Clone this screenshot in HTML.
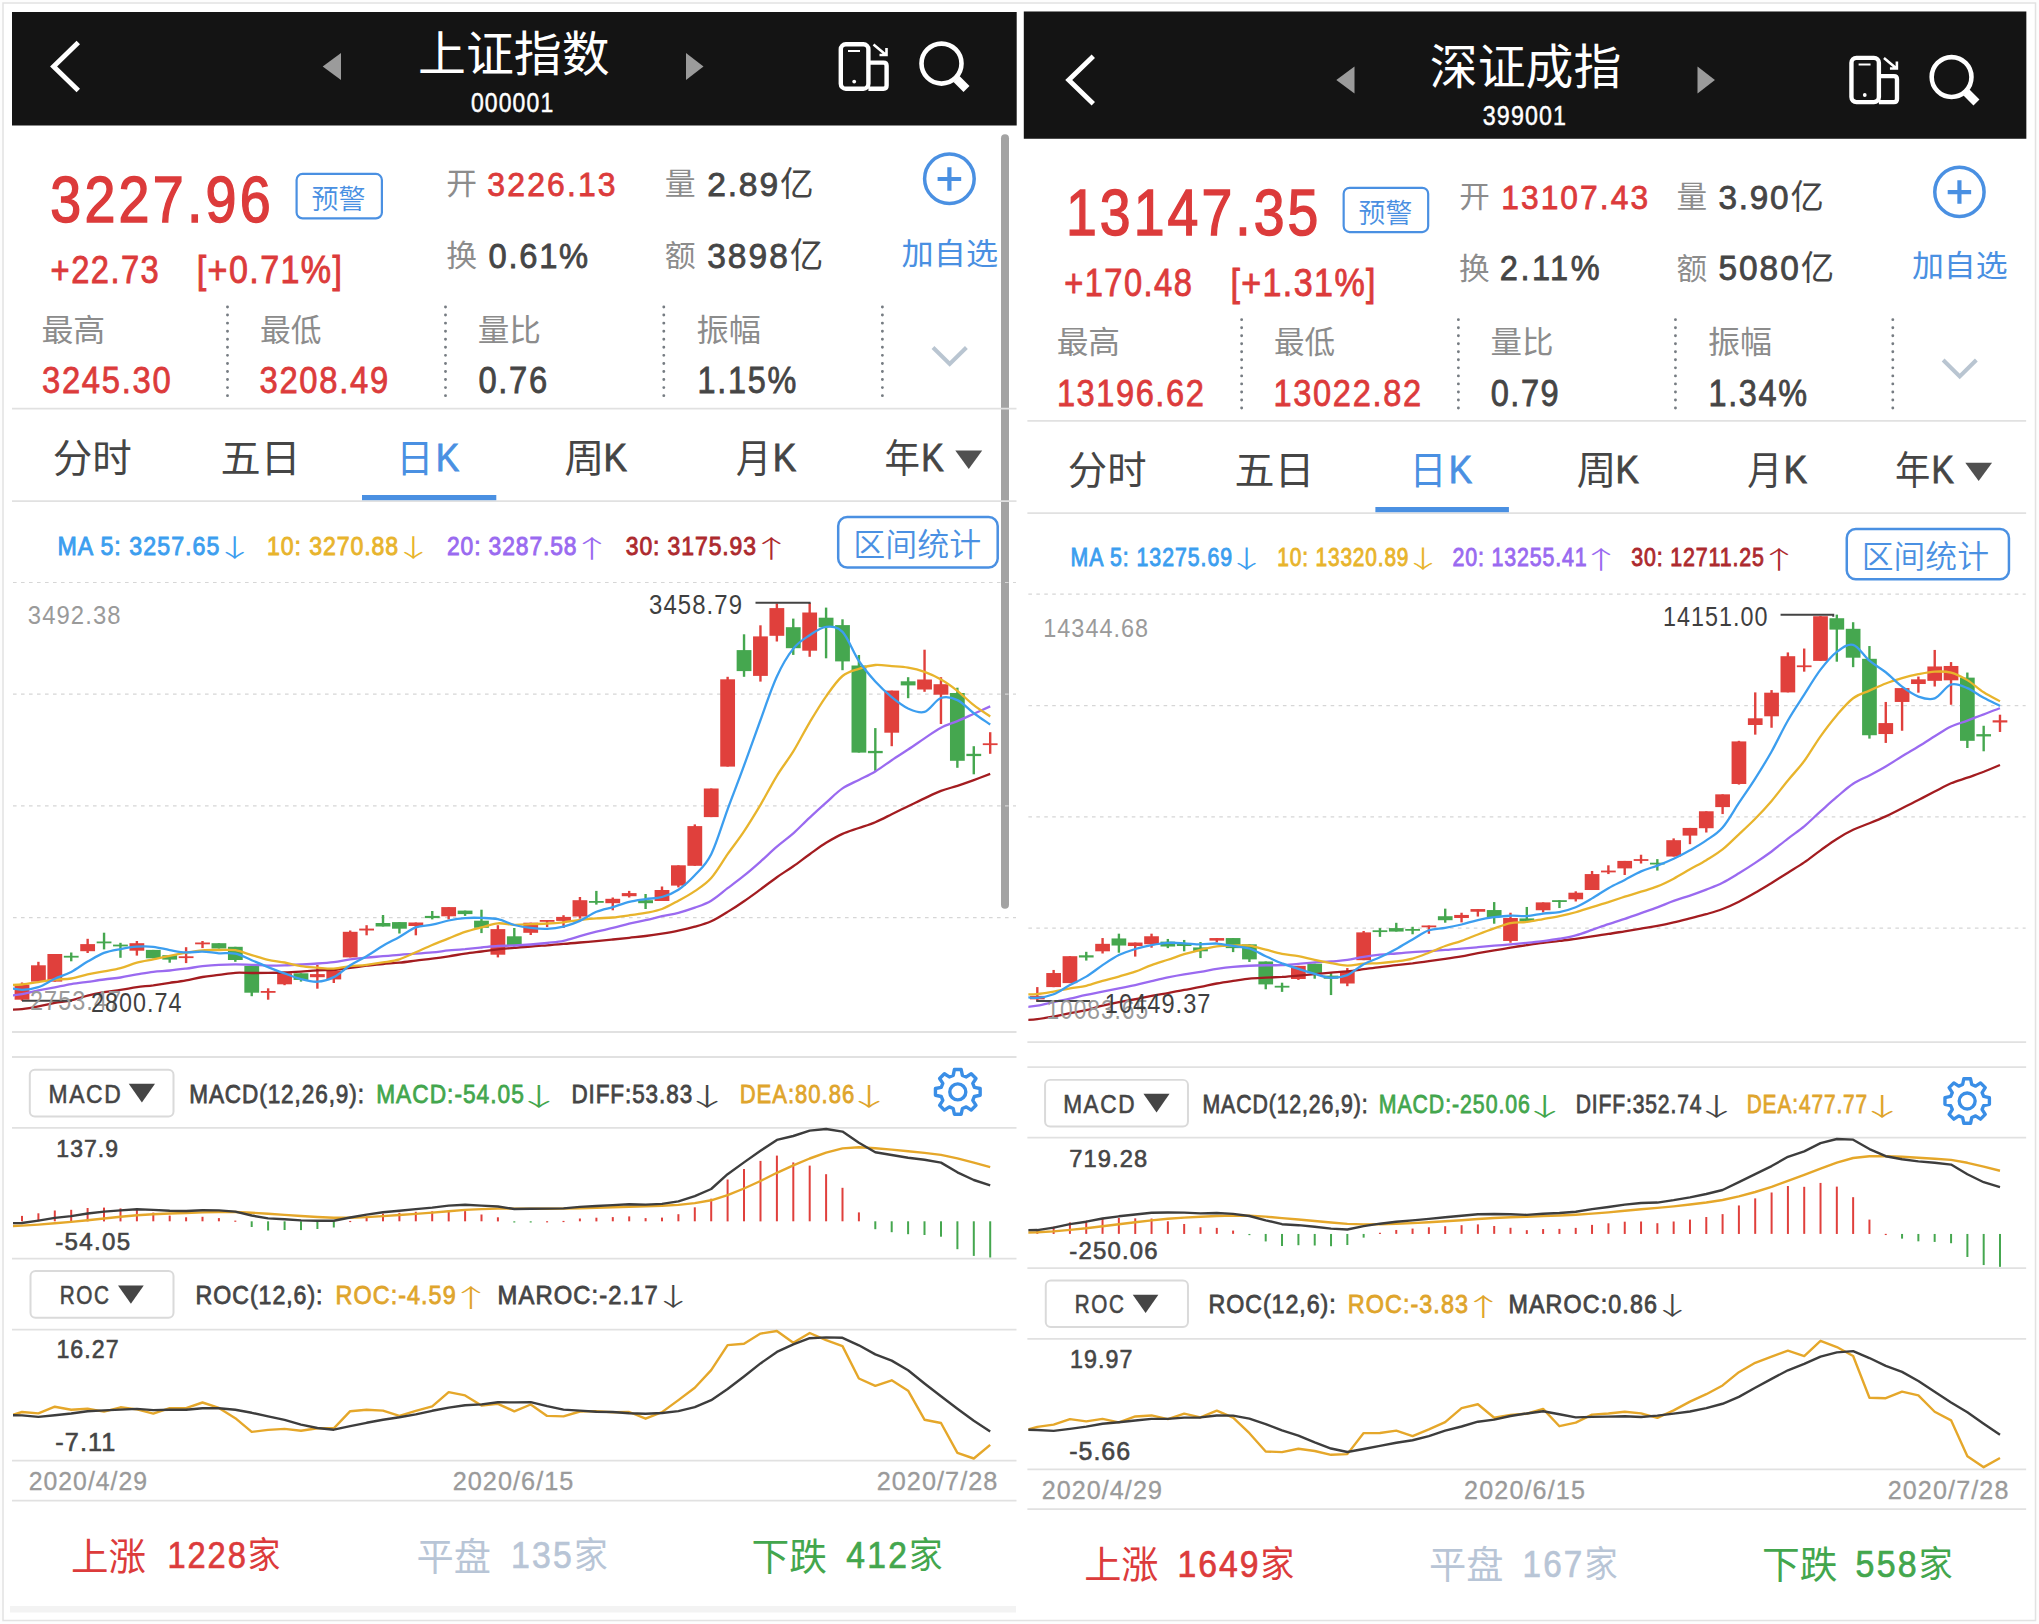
<!DOCTYPE html>
<html><head><meta charset="utf-8"><title>上证指数 / 深证成指</title>
<style>
html,body{margin:0;padding:0;background:#fff;width:2039px;height:1624px;overflow:hidden}
svg{display:block}
.n{font-family:'Liberation Sans','Noto Sans CJK SC',sans-serif}
.a{font-family:'Noto Sans CJK SC',sans-serif}
.c{font-family:'Noto Sans CJK SC',sans-serif}
</style></head><body>
<svg width="2039" height="1624" viewBox="0 0 2039 1624">
<defs>
<clipPath id="clipL"><rect x="13" y="570" width="1003.5" height="900"/></clipPath>
<clipPath id="clipR"><rect x="13" y="570" width="1003.5" height="900"/></clipPath>
</defs>
<rect x="0" y="0" width="2039" height="1624" fill="#fdfdfd"/>
<rect x="3" y="3" width="2032.5" height="1617.5" fill="#fff" stroke="#e2e2e2" stroke-width="1.5"/>
<rect x="10" y="1606" width="1006" height="6.5" fill="#f3f3f3"/>
<g id="left">
<rect x="12.0" y="12.0" width="1004.7" height="113.5" fill="#141414"/>
<path d="M78.3 42.6 L53.6 66.5 L78.3 90.4" fill="none" stroke="#fff" stroke-width="4.9" stroke-linecap="butt" stroke-linejoin="miter"/>
<path d="M341 53 L322.7 66.5 L341 80 Z" fill="#9b9b9b"/>
<path d="M686 53 L703.5 66.5 L686 80 Z" fill="#9b9b9b"/>
<rect x="840.8" y="44.3" width="27.6" height="44.4" rx="5" fill="none" stroke="#fff" stroke-width="4.4"/>
<path d="M868.4 62.6 H883.5 Q886.6 62.6 886.6 65.7 V85.6 Q886.6 88.7 883.5 88.7 H868.4" fill="none" stroke="#fff" stroke-width="4.4"/>
<line x1="848" y1="51" x2="860" y2="51" stroke="#fff" stroke-width="2"/>
<circle cx="854.2" cy="81.6" r="1.9" fill="#fff"/>
<path d="M873.5 44.5 L885.5 54.5 M879.5 55 H886.5 V48" fill="none" stroke="#fff" stroke-width="2.6"/>
<circle cx="941.5" cy="63.6" r="20" fill="none" stroke="#fff" stroke-width="4.6"/>
<line x1="956.5" y1="79" x2="966.5" y2="89" stroke="#fff" stroke-width="8.5"/>
<rect x="1001" y="134.3" width="8" height="774.5" rx="4" fill="#a3a3a3"/>
<rect x="296.6" y="173.9" width="85.3" height="44.5" rx="6" fill="none" stroke="#4a90e2" stroke-width="2.2"/>
<circle cx="949.4" cy="178.8" r="24.8" fill="none" stroke="#4a90e2" stroke-width="3.5"/>
<path d="M937.6 179 H961.2 M949.4 167.2 V190.8" stroke="#4a90e2" stroke-width="4.2"/>
<line x1="227.5" y1="307" x2="227.5" y2="398" stroke="#767c82" stroke-width="2.9" stroke-linecap="round" stroke-dasharray="0.01 8.05"/>
<line x1="445.5" y1="307" x2="445.5" y2="398" stroke="#767c82" stroke-width="2.9" stroke-linecap="round" stroke-dasharray="0.01 8.05"/>
<line x1="663.8" y1="307" x2="663.8" y2="398" stroke="#767c82" stroke-width="2.9" stroke-linecap="round" stroke-dasharray="0.01 8.05"/>
<line x1="882.4" y1="307" x2="882.4" y2="398" stroke="#767c82" stroke-width="2.9" stroke-linecap="round" stroke-dasharray="0.01 8.05"/>
<path d="M933 347.5 L949.7 364 L966.4 347.5" fill="none" stroke="#b9c5d1" stroke-width="4"/>
<line x1="12" y1="408.6" x2="1016.5" y2="408.6" stroke="#e1e1e1" stroke-width="1.8"/>
<line x1="12" y1="501.2" x2="1016.5" y2="501.2" stroke="#e1e1e1" stroke-width="1.8"/>
<line x1="12" y1="1032.0" x2="1016.5" y2="1032.0" stroke="#e1e1e1" stroke-width="1.8"/>
<line x1="12" y1="1057.0" x2="1016.5" y2="1057.0" stroke="#e1e1e1" stroke-width="1.8"/>
<line x1="12" y1="1127.8" x2="1016.5" y2="1127.8" stroke="#e1e1e1" stroke-width="1.8"/>
<line x1="12" y1="1258.6" x2="1016.5" y2="1258.6" stroke="#e1e1e1" stroke-width="1.8"/>
<line x1="12" y1="1329.6" x2="1016.5" y2="1329.6" stroke="#e1e1e1" stroke-width="1.8"/>
<line x1="12" y1="1460.6" x2="1016.5" y2="1460.6" stroke="#e1e1e1" stroke-width="1.8"/>
<line x1="12" y1="1500.6" x2="1016.5" y2="1500.6" stroke="#e1e1e1" stroke-width="1.8"/>
<rect x="362" y="495" width="134.3" height="5.2" fill="#4a90e2"/>
<path d="M955.3 450.5 H982.2 L968.75 468.9 Z" fill="#505050"/>
<rect x="838.2" y="517.0" width="159.5" height="50.6" rx="9" fill="none" stroke="#4a90e2" stroke-width="2.5"/>
<rect x="29.8" y="1069.8" width="143.7" height="46.7" rx="5" fill="none" stroke="#dadada" stroke-width="2"/>
<path d="M128.75 1083.8 H155 L141.9 1102.5 Z" fill="#454545"/>
<rect x="30.5" y="1271" width="143" height="46.7" rx="5" fill="none" stroke="#dadada" stroke-width="2"/>
<path d="M118 1285.5 H143.75 L130.9 1303.75 Z" fill="#454545"/>
<path d="M974.38 1087.31 L980.15 1088.52 L980.15 1095.28 L974.38 1096.49 L972.77 1100.38 L975.99 1105.31 L971.21 1110.09 L966.28 1106.87 L962.39 1108.48 L961.18 1114.25 L954.42 1114.25 L953.21 1108.48 L949.32 1106.87 L944.39 1110.09 L939.61 1105.31 L942.83 1100.38 L941.22 1096.49 L935.45 1095.28 L935.45 1088.52 L941.22 1087.31 L942.83 1083.42 L939.61 1078.49 L944.39 1073.71 L949.32 1076.93 L953.21 1075.32 L954.42 1069.55 L961.18 1069.55 L962.39 1075.32 L966.28 1076.93 L971.21 1073.71 L975.99 1078.49 L972.77 1083.42 Z" fill="none" stroke="#3a8ee6" stroke-width="3.4" stroke-linejoin="round"/><circle cx="957.8" cy="1091.9" r="8" fill="none" stroke="#3a8ee6" stroke-width="3.4"/>
<line x1="13" y1="582.5" x2="1016" y2="582.5" stroke="#d6d6d6" stroke-width="1.2" stroke-dasharray="3.6 4.4"/>
<line x1="13" y1="694.2" x2="1016" y2="694.2" stroke="#d6d6d6" stroke-width="1.2" stroke-dasharray="3.6 4.4"/>
<line x1="13" y1="805.9" x2="1016" y2="805.9" stroke="#d6d6d6" stroke-width="1.2" stroke-dasharray="3.6 4.4"/>
<line x1="13" y1="917.6" x2="1016" y2="917.6" stroke="#d6d6d6" stroke-width="1.2" stroke-dasharray="3.6 4.4"/>
<g clip-path="url(#clipL)">
<rect x="20.80" y="982.5" width="2.4" height="18.3" fill="#e0403c"/>
<rect x="14.60" y="984.7" width="14.8" height="15.0" fill="#e0403c"/>
<rect x="37.21" y="961.8" width="2.4" height="19.8" fill="#e0403c"/>
<rect x="31.01" y="965.3" width="14.8" height="16.3" fill="#e0403c"/>
<rect x="53.62" y="954.0" width="2.4" height="27.6" fill="#e0403c"/>
<rect x="47.42" y="954.0" width="14.8" height="27.6" fill="#e0403c"/>
<rect x="70.03" y="952.5" width="2.4" height="8.8" fill="#45a74f"/>
<rect x="63.83" y="955.8" width="14.8" height="1.8" fill="#45a74f"/>
<rect x="86.44" y="938.8" width="2.4" height="14.2" fill="#e0403c"/>
<rect x="80.24" y="944.1" width="14.8" height="7.1" fill="#e0403c"/>
<rect x="102.85" y="932.7" width="2.4" height="16.7" fill="#45a74f"/>
<rect x="96.65" y="941.5" width="14.8" height="1.8" fill="#45a74f"/>
<rect x="119.26" y="942.8" width="2.4" height="15.0" fill="#45a74f"/>
<rect x="113.06" y="944.6" width="14.8" height="1.8" fill="#45a74f"/>
<rect x="135.67" y="941.0" width="2.4" height="14.6" fill="#e0403c"/>
<rect x="129.47" y="943.2" width="14.8" height="7.5" fill="#e0403c"/>
<rect x="152.08" y="949.9" width="2.4" height="8.4" fill="#45a74f"/>
<rect x="145.88" y="949.9" width="14.8" height="8.4" fill="#45a74f"/>
<rect x="168.49" y="955.2" width="2.4" height="7.5" fill="#45a74f"/>
<rect x="162.29" y="955.2" width="14.8" height="4.4" fill="#45a74f"/>
<rect x="184.90" y="947.2" width="2.4" height="15.9" fill="#e0403c"/>
<rect x="178.70" y="956.3" width="14.8" height="1.8" fill="#e0403c"/>
<rect x="201.31" y="941.0" width="2.4" height="7.1" fill="#e0403c"/>
<rect x="195.11" y="942.5" width="14.8" height="1.8" fill="#e0403c"/>
<rect x="217.72" y="943.2" width="2.4" height="5.3" fill="#45a74f"/>
<rect x="211.52" y="943.2" width="14.8" height="5.3" fill="#45a74f"/>
<rect x="234.13" y="946.8" width="2.4" height="15.0" fill="#45a74f"/>
<rect x="227.93" y="946.8" width="14.8" height="13.2" fill="#45a74f"/>
<rect x="250.54" y="965.8" width="2.4" height="30.4" fill="#45a74f"/>
<rect x="244.34" y="965.8" width="14.8" height="26.9" fill="#45a74f"/>
<rect x="266.95" y="988.3" width="2.4" height="11.4" fill="#e0403c"/>
<rect x="260.75" y="991.0" width="14.8" height="1.8" fill="#e0403c"/>
<rect x="283.36" y="973.3" width="2.4" height="11.9" fill="#e0403c"/>
<rect x="277.16" y="973.3" width="14.8" height="11.0" fill="#e0403c"/>
<rect x="299.77" y="973.3" width="2.4" height="8.3" fill="#45a74f"/>
<rect x="293.57" y="973.3" width="14.8" height="6.6" fill="#45a74f"/>
<rect x="316.18" y="964.9" width="2.4" height="23.8" fill="#e0403c"/>
<rect x="309.98" y="974.1" width="14.8" height="3.1" fill="#e0403c"/>
<rect x="332.59" y="970.6" width="2.4" height="12.4" fill="#e0403c"/>
<rect x="326.39" y="970.6" width="14.8" height="8.8" fill="#e0403c"/>
<rect x="349.00" y="930.5" width="2.4" height="26.9" fill="#e0403c"/>
<rect x="342.80" y="931.8" width="14.8" height="25.6" fill="#e0403c"/>
<rect x="365.41" y="925.2" width="2.4" height="10.1" fill="#e0403c"/>
<rect x="359.21" y="928.6" width="14.8" height="1.9" fill="#e0403c"/>
<rect x="381.82" y="915.0" width="2.4" height="11.5" fill="#45a74f"/>
<rect x="375.62" y="923.0" width="14.8" height="3.5" fill="#45a74f"/>
<rect x="398.23" y="922.1" width="2.4" height="11.4" fill="#45a74f"/>
<rect x="392.03" y="922.1" width="14.8" height="6.6" fill="#45a74f"/>
<rect x="414.64" y="922.5" width="2.4" height="12.8" fill="#e0403c"/>
<rect x="408.44" y="922.5" width="14.8" height="3.5" fill="#e0403c"/>
<rect x="431.05" y="911.0" width="2.4" height="8.4" fill="#45a74f"/>
<rect x="424.85" y="915.9" width="14.8" height="2.2" fill="#45a74f"/>
<rect x="447.46" y="907.1" width="2.4" height="12.3" fill="#e0403c"/>
<rect x="441.26" y="907.1" width="14.8" height="9.2" fill="#e0403c"/>
<rect x="463.87" y="910.6" width="2.4" height="5.3" fill="#45a74f"/>
<rect x="457.67" y="910.6" width="14.8" height="3.5" fill="#45a74f"/>
<rect x="480.28" y="909.7" width="2.4" height="23.4" fill="#45a74f"/>
<rect x="474.08" y="920.7" width="14.8" height="7.1" fill="#45a74f"/>
<rect x="496.69" y="925.2" width="2.4" height="32.2" fill="#e0403c"/>
<rect x="490.49" y="929.1" width="14.8" height="25.6" fill="#e0403c"/>
<rect x="513.10" y="928.0" width="2.4" height="18.5" fill="#45a74f"/>
<rect x="506.90" y="936.3" width="14.8" height="8.7" fill="#45a74f"/>
<rect x="529.51" y="922.7" width="2.4" height="12.3" fill="#e0403c"/>
<rect x="523.31" y="922.7" width="14.8" height="10.1" fill="#e0403c"/>
<rect x="545.92" y="920.0" width="2.4" height="7.1" fill="#e0403c"/>
<rect x="539.72" y="920.0" width="14.8" height="1.8" fill="#e0403c"/>
<rect x="562.33" y="915.2" width="2.4" height="12.8" fill="#e0403c"/>
<rect x="556.13" y="916.9" width="14.8" height="4.0" fill="#e0403c"/>
<rect x="578.74" y="897.0" width="2.4" height="21.7" fill="#e0403c"/>
<rect x="572.54" y="900.2" width="14.8" height="16.3" fill="#e0403c"/>
<rect x="595.15" y="890.9" width="2.4" height="13.7" fill="#45a74f"/>
<rect x="588.95" y="901.0" width="14.8" height="1.8" fill="#45a74f"/>
<rect x="611.56" y="897.5" width="2.4" height="12.8" fill="#e0403c"/>
<rect x="605.36" y="898.8" width="14.8" height="4.4" fill="#e0403c"/>
<rect x="627.97" y="890.9" width="2.4" height="6.6" fill="#e0403c"/>
<rect x="621.77" y="893.1" width="14.8" height="3.1" fill="#e0403c"/>
<rect x="644.38" y="894.0" width="2.4" height="15.0" fill="#45a74f"/>
<rect x="638.18" y="900.2" width="14.8" height="3.0" fill="#45a74f"/>
<rect x="660.79" y="886.5" width="2.4" height="14.5" fill="#e0403c"/>
<rect x="654.59" y="890.0" width="14.8" height="11.0" fill="#e0403c"/>
<rect x="677.20" y="865.3" width="2.4" height="22.1" fill="#e0403c"/>
<rect x="671.00" y="865.3" width="14.8" height="20.3" fill="#e0403c"/>
<rect x="693.61" y="824.4" width="2.4" height="41.4" fill="#e0403c"/>
<rect x="687.41" y="826.1" width="14.8" height="39.7" fill="#e0403c"/>
<rect x="710.02" y="788.5" width="2.4" height="28.6" fill="#e0403c"/>
<rect x="703.82" y="788.5" width="14.8" height="28.6" fill="#e0403c"/>
<rect x="726.43" y="676.8" width="2.4" height="89.8" fill="#e0403c"/>
<rect x="720.23" y="679.3" width="14.8" height="87.3" fill="#e0403c"/>
<rect x="742.84" y="634.3" width="2.4" height="42.5" fill="#45a74f"/>
<rect x="736.64" y="650.1" width="14.8" height="21.0" fill="#45a74f"/>
<rect x="759.25" y="625.3" width="2.4" height="56.3" fill="#e0403c"/>
<rect x="753.05" y="636.4" width="14.8" height="39.5" fill="#e0403c"/>
<rect x="775.66" y="603.4" width="2.4" height="38.1" fill="#e0403c"/>
<rect x="769.46" y="608.1" width="14.8" height="27.7" fill="#e0403c"/>
<rect x="792.07" y="618.6" width="2.4" height="36.3" fill="#45a74f"/>
<rect x="785.87" y="627.2" width="14.8" height="21.0" fill="#45a74f"/>
<rect x="808.48" y="602.8" width="2.4" height="54.0" fill="#e0403c"/>
<rect x="802.28" y="612.5" width="14.8" height="38.2" fill="#e0403c"/>
<rect x="824.89" y="607.6" width="2.4" height="50.7" fill="#45a74f"/>
<rect x="818.69" y="617.7" width="14.8" height="9.5" fill="#45a74f"/>
<rect x="841.30" y="619.3" width="2.4" height="50.9" fill="#45a74f"/>
<rect x="835.10" y="625.1" width="14.8" height="36.3" fill="#45a74f"/>
<rect x="857.71" y="655.0" width="2.4" height="97.6" fill="#45a74f"/>
<rect x="851.51" y="665.5" width="14.8" height="87.1" fill="#45a74f"/>
<rect x="874.12" y="728.1" width="2.4" height="42.7" fill="#45a74f"/>
<rect x="867.92" y="750.9" width="14.8" height="2.3" fill="#45a74f"/>
<rect x="890.53" y="690.6" width="2.4" height="55.6" fill="#e0403c"/>
<rect x="884.33" y="690.6" width="14.8" height="42.1" fill="#e0403c"/>
<rect x="906.94" y="677.2" width="2.4" height="21.0" fill="#45a74f"/>
<rect x="900.74" y="681.3" width="14.8" height="4.1" fill="#45a74f"/>
<rect x="923.35" y="649.7" width="2.4" height="42.1" fill="#e0403c"/>
<rect x="917.15" y="679.5" width="14.8" height="10.0" fill="#e0403c"/>
<rect x="939.76" y="677.2" width="2.4" height="46.8" fill="#e0403c"/>
<rect x="933.56" y="684.2" width="14.8" height="10.5" fill="#e0403c"/>
<rect x="956.17" y="687.7" width="2.4" height="80.1" fill="#45a74f"/>
<rect x="949.97" y="693.0" width="14.8" height="67.8" fill="#45a74f"/>
<rect x="972.58" y="746.2" width="2.4" height="28.1" fill="#45a74f"/>
<rect x="966.38" y="753.8" width="14.8" height="2.3" fill="#45a74f"/>
<rect x="988.99" y="732.2" width="2.4" height="21.6" fill="#e0403c"/>
<rect x="982.79" y="743.3" width="14.8" height="1.8" fill="#e0403c"/>
<path d="M5.6 1010.0 C8.3 1009.8 16.5 1009.7 22.0 1009.1 C27.5 1008.5 32.9 1007.5 38.4 1006.4 C43.9 1005.4 49.4 1003.9 54.8 1002.9 C60.3 1001.9 65.8 1001.6 71.2 1000.4 C76.7 999.1 82.2 997.0 87.6 995.6 C93.1 994.2 98.6 993.1 104.0 992.1 C109.5 991.2 115.0 990.7 120.5 989.9 C125.9 989.1 131.4 988.0 136.9 987.2 C142.3 986.5 147.8 986.0 153.3 985.3 C158.8 984.5 164.2 983.6 169.7 982.8 C175.2 982.0 180.6 981.3 186.1 980.3 C191.6 979.3 197.0 977.9 202.5 977.0 C208.0 976.1 213.5 975.6 218.9 974.9 C224.4 974.2 229.9 973.1 235.3 972.8 C240.8 972.5 246.3 972.9 251.7 973.0 C257.2 973.0 262.7 973.0 268.1 972.9 C273.6 972.8 279.1 972.7 284.6 972.5 C290.0 972.3 295.5 972.0 301.0 971.7 C306.4 971.3 311.9 970.7 317.4 970.4 C322.9 970.1 328.3 970.3 333.8 969.9 C339.3 969.5 344.7 968.5 350.2 967.8 C355.7 967.1 361.1 966.4 366.6 965.7 C372.1 965.1 377.5 964.5 383.0 964.0 C388.5 963.5 394.0 963.3 399.4 962.7 C404.9 962.1 410.4 961.3 415.8 960.6 C421.3 959.9 426.8 959.4 432.2 958.7 C437.7 958.0 443.2 957.2 448.7 956.3 C454.1 955.5 459.6 954.4 465.1 953.6 C470.5 952.8 476.0 952.2 481.5 951.5 C487.0 950.8 492.4 949.9 497.9 949.3 C503.4 948.7 508.8 948.4 514.3 947.9 C519.8 947.4 525.2 946.9 530.7 946.5 C536.2 946.0 541.6 945.7 547.1 945.3 C552.6 944.9 558.1 944.4 563.5 943.9 C569.0 943.5 574.5 943.0 579.9 942.5 C585.4 942.0 590.9 941.6 596.4 941.1 C601.8 940.6 607.3 940.0 612.8 939.5 C618.2 938.9 623.7 938.4 629.2 937.8 C634.6 937.2 640.1 936.7 645.6 936.0 C651.1 935.3 656.5 934.5 662.0 933.6 C667.5 932.7 672.9 931.8 678.4 930.6 C683.9 929.5 689.3 928.3 694.8 926.7 C700.3 925.2 705.8 923.8 711.2 921.3 C716.7 918.8 722.2 915.3 727.6 911.9 C733.1 908.6 738.6 905.0 744.0 901.2 C749.5 897.5 755.0 893.4 760.5 889.4 C765.9 885.4 771.4 881.1 776.9 877.2 C782.3 873.4 787.8 870.1 793.3 866.2 C798.7 862.4 804.2 858.1 809.7 854.2 C815.2 850.3 820.6 846.2 826.1 842.8 C831.6 839.5 837.0 836.3 842.5 833.9 C848.0 831.4 853.4 830.0 858.9 828.0 C864.4 826.1 869.9 824.5 875.3 822.2 C880.8 819.9 886.3 816.9 891.7 814.2 C897.2 811.6 902.7 809.0 908.1 806.3 C913.6 803.7 919.1 800.9 924.5 798.4 C930.0 795.8 935.5 793.0 941.0 790.9 C946.4 788.8 951.9 787.6 957.4 785.8 C962.8 784.0 968.3 782.1 973.8 780.1 C979.2 778.1 987.5 774.9 990.2 773.9" fill="none" stroke="#a31c20" stroke-width="2.3" stroke-linejoin="round"/>
<path d="M5.6 996.3 C8.3 995.9 16.5 995.1 22.0 994.1 C27.5 993.1 32.9 991.4 38.4 990.3 C43.9 989.2 49.4 988.4 54.8 987.4 C60.3 986.3 65.8 985.0 71.2 984.1 C76.7 983.2 82.2 982.6 87.6 981.9 C93.1 981.1 98.6 980.2 104.0 979.5 C109.5 978.7 115.0 978.3 120.5 977.5 C125.9 976.6 131.4 975.4 136.9 974.4 C142.3 973.5 147.8 972.4 153.3 971.8 C158.8 971.1 164.2 971.1 169.7 970.5 C175.2 970.0 180.6 969.3 186.1 968.6 C191.6 967.9 197.0 966.8 202.5 966.2 C208.0 965.6 213.5 965.1 218.9 964.8 C224.4 964.5 229.9 964.4 235.3 964.4 C240.8 964.4 246.3 964.6 251.7 964.8 C257.2 965.0 262.7 965.5 268.1 965.6 C273.6 965.6 279.1 965.5 284.6 965.3 C290.0 965.1 295.5 964.8 301.0 964.5 C306.4 964.2 311.9 963.9 317.4 963.5 C322.9 963.2 328.3 962.9 333.8 962.2 C339.3 961.6 344.7 960.2 350.2 959.4 C355.7 958.7 361.1 958.1 366.6 957.6 C372.1 957.0 377.5 956.7 383.0 956.2 C388.5 955.7 394.0 955.2 399.4 954.8 C404.9 954.3 410.4 954.1 415.8 953.7 C421.3 953.3 426.8 952.9 432.2 952.4 C437.7 951.9 443.2 951.0 448.7 950.4 C454.1 949.9 459.6 949.5 465.1 949.1 C470.5 948.6 476.0 948.0 481.5 947.5 C487.0 947.0 492.4 946.3 497.9 946.0 C503.4 945.7 508.8 945.8 514.3 945.5 C519.8 945.3 525.2 945.0 530.7 944.5 C536.2 944.1 541.6 943.6 547.1 943.0 C552.6 942.3 558.1 941.9 563.5 940.8 C569.0 939.7 574.5 937.7 579.9 936.2 C585.4 934.6 590.9 933.1 596.4 931.7 C601.8 930.3 607.3 929.3 612.8 927.9 C618.2 926.6 623.7 924.9 629.2 923.6 C634.6 922.3 640.1 921.4 645.6 920.1 C651.1 918.9 656.5 917.4 662.0 916.1 C667.5 914.9 672.9 914.2 678.4 912.8 C683.9 911.4 689.3 909.7 694.8 907.7 C700.3 905.7 705.8 904.0 711.2 900.7 C716.7 897.5 722.2 892.4 727.6 888.2 C733.1 884.1 738.6 880.1 744.0 875.7 C749.5 871.3 755.0 866.5 760.5 861.6 C765.9 856.8 771.4 851.4 776.9 846.7 C782.3 842.0 787.8 838.2 793.3 833.4 C798.7 828.5 804.2 822.7 809.7 817.6 C815.2 812.4 820.6 807.5 826.1 802.6 C831.6 797.7 837.0 792.1 842.5 788.4 C848.0 784.6 853.4 782.7 858.9 779.9 C864.4 777.1 869.9 774.8 875.3 771.5 C880.8 768.2 886.3 763.9 891.7 760.2 C897.2 756.5 902.7 753.1 908.1 749.5 C913.6 745.9 919.1 742.0 924.5 738.4 C930.0 734.7 935.5 730.5 941.0 727.7 C946.4 724.8 951.9 723.4 957.4 721.1 C962.8 718.8 968.3 716.2 973.8 713.7 C979.2 711.3 987.5 707.6 990.2 706.4" fill="none" stroke="#9a6af0" stroke-width="2.3" stroke-linejoin="round"/>
<path d="M5.6 985.2 C8.3 985.1 16.5 985.0 22.0 984.5 C27.5 984.0 32.9 982.9 38.4 982.1 C43.9 981.3 49.4 980.3 54.8 979.7 C60.3 979.1 65.8 979.4 71.2 978.5 C76.7 977.7 82.2 975.6 87.6 974.4 C93.1 973.2 98.6 972.4 104.0 971.3 C109.5 970.3 115.0 969.6 120.5 968.1 C125.9 966.7 131.4 964.2 136.9 962.7 C142.3 961.2 147.8 960.5 153.3 959.4 C158.8 958.2 164.2 957.0 169.7 955.9 C175.2 954.7 180.6 953.6 186.1 952.6 C191.6 951.7 197.0 950.8 202.5 950.3 C208.0 949.9 213.5 950.0 218.9 950.0 C224.4 950.0 229.9 949.3 235.3 950.2 C240.8 951.1 246.3 953.5 251.7 955.1 C257.2 956.7 262.7 958.6 268.1 959.8 C273.6 961.0 279.1 961.4 284.6 962.5 C290.0 963.6 295.5 965.3 301.0 966.2 C306.4 967.1 311.9 967.3 317.4 967.7 C322.9 968.1 328.3 968.9 333.8 968.6 C339.3 968.4 344.7 966.9 350.2 966.2 C355.7 965.6 361.1 965.5 366.6 964.8 C372.1 964.2 377.5 963.4 383.0 962.4 C388.5 961.5 394.0 961.0 399.4 959.3 C404.9 957.6 410.4 954.6 415.8 952.3 C421.3 949.9 426.8 947.3 432.2 945.0 C437.7 942.7 443.2 940.6 448.7 938.4 C454.1 936.2 459.6 933.8 465.1 931.9 C470.5 930.1 476.0 928.8 481.5 927.4 C487.0 926.0 492.4 923.8 497.9 923.3 C503.4 922.9 508.8 924.7 514.3 924.9 C519.8 925.0 525.2 924.5 530.7 924.2 C536.2 924.0 541.6 923.8 547.1 923.5 C552.6 923.2 558.1 922.8 563.5 922.3 C569.0 921.7 574.5 920.7 579.9 920.0 C585.4 919.4 590.9 918.8 596.4 918.4 C601.8 918.0 607.3 918.0 612.8 917.5 C618.2 917.0 623.7 916.1 629.2 915.3 C634.6 914.6 640.1 913.9 645.6 912.9 C651.1 911.8 656.5 911.0 662.0 909.0 C667.5 906.9 672.9 903.7 678.4 900.7 C683.9 897.8 689.3 894.9 694.8 891.1 C700.3 887.3 705.8 884.2 711.2 878.0 C716.7 871.8 722.2 862.0 727.6 854.2 C733.1 846.4 738.6 839.6 744.0 831.4 C749.5 823.1 755.0 814.1 760.5 804.9 C765.9 795.6 771.4 784.7 776.9 775.8 C782.3 766.9 787.8 760.3 793.3 751.4 C798.7 742.5 804.2 731.5 809.7 722.3 C815.2 713.1 820.6 704.0 826.1 696.3 C831.6 688.5 837.0 680.6 842.5 676.0 C848.0 671.4 853.4 670.6 858.9 668.8 C864.4 666.9 869.9 665.5 875.3 665.0 C880.8 664.6 886.3 665.7 891.7 666.2 C897.2 666.6 902.7 666.7 908.1 667.7 C913.6 668.6 919.1 669.9 924.5 671.9 C930.0 673.9 935.5 676.3 941.0 679.5 C946.4 682.6 951.9 686.5 957.4 690.8 C962.8 695.1 968.3 700.9 973.8 705.2 C979.2 709.5 987.5 714.6 990.2 716.5" fill="none" stroke="#e8b42c" stroke-width="2.3" stroke-linejoin="round"/>
<path d="M5.6 987.2 C8.3 987.6 16.5 989.8 22.0 989.8 C27.5 989.8 32.9 989.0 38.4 987.2 C43.9 985.3 49.4 981.3 54.8 978.7 C60.3 976.2 65.8 974.8 71.2 972.0 C76.7 969.1 82.2 964.8 87.6 961.6 C93.1 958.5 98.6 955.0 104.0 952.9 C109.5 950.8 115.0 950.1 120.5 949.1 C125.9 948.0 131.4 947.0 136.9 946.7 C142.3 946.3 147.8 946.2 153.3 946.8 C158.8 947.4 164.2 949.1 169.7 950.1 C175.2 951.0 180.6 952.2 186.1 952.4 C191.6 952.7 197.0 951.4 202.5 951.6 C208.0 951.7 213.5 953.0 218.9 953.3 C224.4 953.6 229.9 952.4 235.3 953.6 C240.8 954.7 246.3 957.9 251.7 960.2 C257.2 962.5 262.7 964.9 268.1 967.1 C273.6 969.4 279.1 971.4 284.6 973.4 C290.0 975.4 295.5 977.7 301.0 979.1 C306.4 980.5 311.9 982.1 317.4 981.7 C322.9 981.4 328.3 979.8 333.8 977.1 C339.3 974.3 344.7 968.8 350.2 965.3 C355.7 961.8 361.1 959.5 366.6 956.2 C372.1 953.0 377.5 949.0 383.0 945.8 C388.5 942.5 394.0 940.0 399.4 936.9 C404.9 933.9 410.4 929.5 415.8 927.4 C421.3 925.4 426.8 925.9 432.2 924.7 C437.7 923.6 443.2 921.7 448.7 920.5 C454.1 919.4 459.6 918.5 465.1 918.1 C470.5 917.6 476.0 917.7 481.5 917.9 C487.0 918.1 492.4 918.0 497.9 919.2 C503.4 920.4 508.8 923.5 514.3 925.0 C519.8 926.4 525.2 927.3 530.7 927.9 C536.2 928.6 541.6 929.1 547.1 928.9 C552.6 928.7 558.1 928.0 563.5 926.7 C569.0 925.3 574.5 923.3 579.9 920.9 C585.4 918.4 590.9 914.1 596.4 911.8 C601.8 909.5 607.3 908.7 612.8 907.1 C618.2 905.4 623.7 903.1 629.2 901.8 C634.6 900.5 640.1 899.9 645.6 899.1 C651.1 898.3 656.5 898.6 662.0 897.0 C667.5 895.5 672.9 893.3 678.4 889.7 C683.9 886.0 689.3 881.1 694.8 875.2 C700.3 869.3 705.8 865.2 711.2 854.2 C716.7 843.2 722.2 824.1 727.6 809.3 C733.1 794.5 738.6 780.6 744.0 765.7 C749.5 750.8 755.0 734.9 760.5 720.0 C765.9 705.1 771.4 688.4 776.9 676.5 C782.3 664.6 787.8 655.5 793.3 648.6 C798.7 641.7 804.2 638.9 809.7 635.2 C815.2 631.6 820.6 627.4 826.1 626.8 C831.6 626.3 837.0 626.2 842.5 631.9 C848.0 637.6 853.4 652.8 858.9 661.0 C864.4 669.3 869.9 675.5 875.3 681.5 C880.8 687.5 886.3 692.6 891.7 697.1 C897.2 701.6 902.7 706.0 908.1 708.5 C913.6 710.9 919.1 713.6 924.5 711.9 C930.0 710.1 935.5 699.9 941.0 698.0 C946.4 696.0 951.9 697.5 957.4 700.1 C962.8 702.6 968.3 709.2 973.8 713.2 C979.2 717.3 987.5 722.6 990.2 724.5" fill="none" stroke="#3c9eef" stroke-width="2.3" stroke-linejoin="round"/>
</g>
<rect x="21.0" y="1215.9" width="2" height="5.4" fill="#e0403c"/>
<rect x="37.4" y="1213.3" width="2" height="8.0" fill="#e0403c"/>
<rect x="53.8" y="1210.5" width="2" height="10.8" fill="#e0403c"/>
<rect x="70.2" y="1209.8" width="2" height="11.5" fill="#e0403c"/>
<rect x="86.6" y="1208.0" width="2" height="13.4" fill="#e0403c"/>
<rect x="103.0" y="1207.6" width="2" height="13.8" fill="#e0403c"/>
<rect x="119.5" y="1208.4" width="2" height="13.0" fill="#e0403c"/>
<rect x="135.9" y="1209.1" width="2" height="12.2" fill="#e0403c"/>
<rect x="152.3" y="1212.6" width="2" height="8.7" fill="#e0403c"/>
<rect x="168.7" y="1215.6" width="2" height="5.7" fill="#e0403c"/>
<rect x="185.1" y="1217.3" width="2" height="4.0" fill="#e0403c"/>
<rect x="201.5" y="1216.8" width="2" height="4.5" fill="#e0403c"/>
<rect x="217.9" y="1218.1" width="2" height="3.2" fill="#e0403c"/>
<rect x="234.3" y="1220.6" width="2" height="1.2" fill="#e0403c"/>
<rect x="250.7" y="1221.3" width="2" height="5.7" fill="#45a74f"/>
<rect x="267.1" y="1221.3" width="2" height="9.2" fill="#45a74f"/>
<rect x="283.6" y="1221.3" width="2" height="8.7" fill="#45a74f"/>
<rect x="300.0" y="1221.3" width="2" height="8.8" fill="#45a74f"/>
<rect x="316.4" y="1221.3" width="2" height="7.7" fill="#45a74f"/>
<rect x="332.8" y="1221.3" width="2" height="6.2" fill="#45a74f"/>
<rect x="349.2" y="1220.9" width="2" height="1.2" fill="#e0403c"/>
<rect x="365.6" y="1216.3" width="2" height="5.0" fill="#e0403c"/>
<rect x="382.0" y="1213.6" width="2" height="7.7" fill="#e0403c"/>
<rect x="398.4" y="1212.8" width="2" height="8.5" fill="#e0403c"/>
<rect x="414.8" y="1211.8" width="2" height="9.5" fill="#e0403c"/>
<rect x="431.2" y="1211.3" width="2" height="10.0" fill="#e0403c"/>
<rect x="447.7" y="1210.1" width="2" height="11.3" fill="#e0403c"/>
<rect x="464.1" y="1211.1" width="2" height="10.2" fill="#e0403c"/>
<rect x="480.5" y="1214.5" width="2" height="6.8" fill="#e0403c"/>
<rect x="496.9" y="1217.3" width="2" height="4.1" fill="#e0403c"/>
<rect x="513.3" y="1221.3" width="2" height="1.2" fill="#45a74f"/>
<rect x="529.7" y="1221.3" width="2" height="1.2" fill="#45a74f"/>
<rect x="546.1" y="1221.2" width="2" height="1.2" fill="#e0403c"/>
<rect x="562.5" y="1220.9" width="2" height="1.2" fill="#e0403c"/>
<rect x="578.9" y="1218.5" width="2" height="2.8" fill="#e0403c"/>
<rect x="595.4" y="1217.7" width="2" height="3.7" fill="#e0403c"/>
<rect x="611.8" y="1217.1" width="2" height="4.2" fill="#e0403c"/>
<rect x="628.2" y="1216.4" width="2" height="4.9" fill="#e0403c"/>
<rect x="644.6" y="1218.1" width="2" height="3.2" fill="#e0403c"/>
<rect x="661.0" y="1217.6" width="2" height="3.7" fill="#e0403c"/>
<rect x="677.4" y="1214.2" width="2" height="7.1" fill="#e0403c"/>
<rect x="693.8" y="1207.3" width="2" height="14.0" fill="#e0403c"/>
<rect x="710.2" y="1198.7" width="2" height="22.6" fill="#e0403c"/>
<rect x="726.6" y="1179.5" width="2" height="41.9" fill="#e0403c"/>
<rect x="743.0" y="1169.0" width="2" height="52.3" fill="#e0403c"/>
<rect x="759.5" y="1160.9" width="2" height="60.5" fill="#e0403c"/>
<rect x="775.9" y="1155.6" width="2" height="65.7" fill="#e0403c"/>
<rect x="792.3" y="1162.4" width="2" height="58.9" fill="#e0403c"/>
<rect x="808.7" y="1165.6" width="2" height="55.7" fill="#e0403c"/>
<rect x="825.1" y="1174.2" width="2" height="47.1" fill="#e0403c"/>
<rect x="841.5" y="1187.8" width="2" height="33.5" fill="#e0403c"/>
<rect x="857.9" y="1212.4" width="2" height="8.9" fill="#e0403c"/>
<rect x="874.3" y="1221.3" width="2" height="7.9" fill="#45a74f"/>
<rect x="890.7" y="1221.3" width="2" height="10.9" fill="#45a74f"/>
<rect x="907.1" y="1221.3" width="2" height="12.9" fill="#45a74f"/>
<rect x="923.5" y="1221.3" width="2" height="13.7" fill="#45a74f"/>
<rect x="940.0" y="1221.3" width="2" height="15.4" fill="#45a74f"/>
<rect x="956.4" y="1221.3" width="2" height="27.9" fill="#45a74f"/>
<rect x="972.8" y="1221.3" width="2" height="34.6" fill="#45a74f"/>
<rect x="989.2" y="1221.3" width="2" height="36.2" fill="#45a74f"/>
<g clip-path="url(#clipL)">
<path d="M5.6 1226.3 L22.0 1225.6 L38.4 1224.6 L54.8 1223.3 L71.2 1221.9 L87.6 1220.2 L104.0 1218.5 L120.5 1216.8 L136.9 1215.3 L153.3 1214.2 L169.7 1213.5 L186.1 1213.0 L202.5 1212.4 L218.9 1212.0 L235.3 1212.0 L251.7 1212.7 L268.1 1213.8 L284.6 1214.9 L301.0 1216.0 L317.4 1217.0 L333.8 1217.7 L350.2 1217.7 L366.6 1217.1 L383.0 1216.1 L399.4 1215.0 L415.8 1213.9 L432.2 1212.6 L448.7 1211.2 L465.1 1209.9 L481.5 1209.1 L497.9 1208.6 L514.3 1208.6 L530.7 1208.7 L547.1 1208.7 L563.5 1208.6 L579.9 1208.3 L596.4 1207.8 L612.8 1207.3 L629.2 1206.7 L645.6 1206.3 L662.0 1205.8 L678.4 1204.9 L694.8 1203.1 L711.2 1200.3 L727.6 1195.1 L744.0 1188.5 L760.5 1181.0 L776.9 1172.8 L793.3 1165.4 L809.7 1158.5 L826.1 1152.6 L842.5 1148.4 L858.9 1147.3 L875.3 1148.3 L891.7 1149.6 L908.1 1151.2 L924.5 1152.9 L941.0 1154.9 L957.4 1158.3 L973.8 1162.7 L990.2 1167.2" fill="none" stroke="#e5a72a" stroke-width="2.4" stroke-linejoin="round"/>
<path d="M5.6 1223.3 L22.0 1223.0 L38.4 1220.6 L54.8 1217.9 L71.2 1216.1 L87.6 1213.5 L104.0 1211.6 L120.5 1210.4 L136.9 1209.2 L153.3 1209.9 L169.7 1210.7 L186.1 1211.0 L202.5 1210.2 L218.9 1210.4 L235.3 1211.6 L251.7 1215.5 L268.1 1218.4 L284.6 1219.2 L301.0 1220.4 L317.4 1220.8 L333.8 1220.8 L350.2 1217.5 L366.6 1214.6 L383.0 1212.3 L399.4 1210.8 L415.8 1209.1 L432.2 1207.6 L448.7 1205.6 L465.1 1204.8 L481.5 1205.6 L497.9 1206.5 L514.3 1209.0 L530.7 1208.8 L547.1 1208.6 L563.5 1208.4 L579.9 1206.9 L596.4 1206.0 L612.8 1205.1 L629.2 1204.2 L645.6 1204.6 L662.0 1203.9 L678.4 1201.4 L694.8 1196.1 L711.2 1189.0 L727.6 1174.2 L744.0 1162.4 L760.5 1150.8 L776.9 1139.9 L793.3 1136.0 L809.7 1130.6 L826.1 1129.0 L842.5 1131.6 L858.9 1142.8 L875.3 1152.2 L891.7 1155.0 L908.1 1157.7 L924.5 1159.8 L941.0 1162.6 L957.4 1172.3 L973.8 1180.0 L990.2 1185.3" fill="none" stroke="#3d3d3d" stroke-width="2.4" stroke-linejoin="round"/>
<path d="M5.6 1417.1 L22.0 1412.0 L38.4 1413.4 L54.8 1406.7 L71.2 1409.8 L87.6 1408.8 L104.0 1411.6 L120.5 1407.3 L136.9 1409.4 L153.3 1413.6 L169.7 1408.1 L186.1 1408.1 L202.5 1402.5 L218.9 1407.9 L235.3 1418.2 L251.7 1431.9 L268.1 1429.9 L284.6 1428.9 L301.0 1430.7 L317.4 1428.3 L333.8 1428.3 L350.2 1411.2 L366.6 1409.7 L383.0 1410.6 L399.4 1415.8 L415.8 1410.8 L432.2 1406.4 L448.7 1392.1 L465.1 1395.4 L481.5 1405.5 L497.9 1403.8 L514.3 1411.3 L530.7 1404.5 L547.1 1415.9 L563.5 1416.4 L579.9 1411.5 L596.4 1411.1 L612.8 1412.3 L629.2 1412.0 L645.6 1418.7 L662.0 1412.1 L678.4 1400.1 L694.8 1387.8 L711.2 1370.1 L727.6 1345.1 L744.0 1343.7 L760.5 1333.6 L776.9 1331.0 L793.3 1342.8 L809.7 1333.0 L826.1 1340.1 L842.5 1346.1 L858.9 1378.5 L875.3 1385.8 L891.7 1380.3 L908.1 1390.7 L924.5 1419.7 L941.0 1423.0 L957.4 1452.8 L973.8 1458.5 L990.2 1444.8" fill="none" stroke="#e5a72a" stroke-width="2.4" stroke-linejoin="round"/>
<path d="M5.6 1415.1 L22.0 1415.4 L38.4 1416.9 L54.8 1415.3 L71.2 1413.5 L87.6 1411.3 L104.0 1410.4 L120.5 1409.6 L136.9 1408.9 L153.3 1410.1 L169.7 1409.8 L186.1 1409.7 L202.5 1408.2 L218.9 1408.3 L235.3 1409.7 L251.7 1412.8 L268.1 1416.4 L284.6 1419.9 L301.0 1424.6 L317.4 1428.0 L333.8 1429.7 L350.2 1426.2 L366.6 1422.8 L383.0 1419.8 L399.4 1417.3 L415.8 1414.4 L432.2 1410.8 L448.7 1407.6 L465.1 1405.2 L481.5 1404.4 L497.9 1402.3 L514.3 1402.4 L530.7 1402.1 L547.1 1406.1 L563.5 1409.6 L579.9 1410.6 L596.4 1411.8 L612.8 1412.0 L629.2 1413.2 L645.6 1413.7 L662.0 1413.0 L678.4 1411.1 L694.8 1407.2 L711.2 1400.2 L727.6 1389.0 L744.0 1376.5 L760.5 1363.4 L776.9 1351.9 L793.3 1344.4 L809.7 1338.2 L826.1 1337.4 L842.5 1337.8 L858.9 1345.3 L875.3 1354.4 L891.7 1360.6 L908.1 1370.2 L924.5 1383.5 L941.0 1396.3 L957.4 1408.7 L973.8 1420.8 L990.2 1431.6" fill="none" stroke="#3d3d3d" stroke-width="2.4" stroke-linejoin="round"/>
</g>
<path d="M755.5 602.8 H809.6 V604" fill="none" stroke="#444" stroke-width="2"/>
<line x1="22" y1="1000.7" x2="72" y2="1000.7" stroke="#444" stroke-width="2"/>
<text class="c" x="418.00" y="70.90" font-size="48.00" textLength="191.59" lengthAdjust="spacingAndGlyphs" fill="#ffffff">上证指数</text>
<text class="n" transform="matrix(0.845 0 0 1 470.91 0)" x="0" y="112.25" font-size="27.19" textLength="97.39" lengthAdjust="spacing" fill="#ffffff" stroke="#ffffff" stroke-width="0.50">000001</text>
<text class="n" transform="matrix(0.850 0 0 1 50.25 0)" x="0" y="221.75" font-size="65.51" textLength="259.37" lengthAdjust="spacing" fill="#dc3b3b" stroke="#dc3b3b" stroke-width="1.50">3227.96</text>
<text class="c" x="311.62" y="209.20" font-size="27.60" textLength="53.96" lengthAdjust="spacingAndGlyphs" fill="#4a90e2" font-weight="350">预警</text>
<text class="n" transform="matrix(0.839 0 0 1 50.61 0)" x="0" y="283.35" font-size="38.89" textLength="128.82" lengthAdjust="spacing" fill="#dc3b3b" stroke="#dc3b3b" stroke-width="0.90">+22.73</text>
<text class="n" transform="matrix(0.876 0 0 1 196.70 0)" x="0" y="283.35" font-size="38.89" textLength="165.88" lengthAdjust="spacing" fill="#dc3b3b" stroke="#dc3b3b" stroke-width="0.90">[+0.71%]</text>
<text class="c" x="446.37" y="194.00" font-size="29.80" textLength="30.75" lengthAdjust="spacingAndGlyphs" fill="#8c8c8c">开</text>
<text class="n" transform="matrix(0.940 0 0 1 487.36 0)" x="0" y="196.00" font-size="33.95" textLength="136.45" lengthAdjust="spacing" fill="#dc3b3b" stroke="#dc3b3b" stroke-width="0.80">3226.13</text>
<text class="c" x="664.76" y="194.00" font-size="29.80" textLength="30.86" lengthAdjust="spacingAndGlyphs" fill="#8c8c8c">量</text>
<text class="n" transform="matrix(0.991 0 0 1 707.21 0)" x="0" y="196.00" font-size="33.95" textLength="107.29" lengthAdjust="spacing" fill="#454545" stroke="#454545" stroke-width="0.80">2.89<tspan class="c" stroke-width="0">亿</tspan></text>
<text class="c" x="446.16" y="266.00" font-size="29.80" textLength="30.86" lengthAdjust="spacingAndGlyphs" fill="#8c8c8c">换</text>
<text class="n" transform="matrix(0.940 0 0 1 488.46 0)" x="0" y="267.60" font-size="34.80" textLength="106.09" lengthAdjust="spacing" fill="#454545" stroke="#454545" stroke-width="0.80">0.61%</text>
<text class="c" x="664.76" y="266.00" font-size="29.80" textLength="30.86" lengthAdjust="spacingAndGlyphs" fill="#8c8c8c">额</text>
<text class="n" transform="matrix(0.964 0 0 1 707.24 0)" x="0" y="267.60" font-size="34.80" textLength="120.44" lengthAdjust="spacing" fill="#454545" stroke="#454545" stroke-width="0.80">3898<tspan class="c" stroke-width="0">亿</tspan></text>
<text class="c" x="901.60" y="263.50" font-size="30.00" textLength="96.47" lengthAdjust="spacingAndGlyphs" fill="#4a90e2">加自选</text>
<text class="c" x="41.45" y="340.60" font-size="30.40" textLength="63.76" lengthAdjust="spacingAndGlyphs" fill="#8c8c8c">最高</text>
<text class="c" x="259.99" y="340.60" font-size="30.40" textLength="61.41" lengthAdjust="spacingAndGlyphs" fill="#8c8c8c">最低</text>
<text class="c" x="477.71" y="340.60" font-size="30.40" textLength="63.34" lengthAdjust="spacingAndGlyphs" fill="#8c8c8c">量比</text>
<text class="c" x="696.54" y="340.60" font-size="30.40" textLength="64.33" lengthAdjust="spacingAndGlyphs" fill="#8c8c8c">振幅</text>
<text class="n" transform="matrix(0.900 0 0 1 42.00 0)" x="0" y="393.35" font-size="36.39" textLength="143.01" lengthAdjust="spacing" fill="#dc3b3b" stroke="#dc3b3b" stroke-width="0.80">3245.30</text>
<text class="n" transform="matrix(0.900 0 0 1 259.50 0)" x="0" y="393.35" font-size="36.39" textLength="143.01" lengthAdjust="spacing" fill="#dc3b3b" stroke="#dc3b3b" stroke-width="0.80">3208.49</text>
<text class="n" transform="matrix(0.900 0 0 1 478.50 0)" x="0" y="393.35" font-size="36.39" textLength="76.34" lengthAdjust="spacing" fill="#454545" stroke="#454545" stroke-width="0.80">0.76</text>
<text class="n" transform="matrix(0.891 0 0 1 697.62 0)" x="0" y="393.35" font-size="36.39" textLength="110.73" lengthAdjust="spacing" fill="#454545" stroke="#454545" stroke-width="0.80">1.15%</text>
<text class="c" x="52.72" y="472.40" font-size="38.60" textLength="79.12" lengthAdjust="spacingAndGlyphs" fill="#454545">分时</text>
<text class="c" x="220.42" y="472.40" font-size="38.60" textLength="80.40" lengthAdjust="spacingAndGlyphs" fill="#454545">五日</text>
<text class="c" x="396.22" y="472.40" font-size="38.60" textLength="37.15" lengthAdjust="spacingAndGlyphs" fill="#4a90e2">日</text>
<text class="n" transform="matrix(0.900 0 0 1 435.70 0)" x="0" y="470.90" font-size="39.24" textLength="28.11" lengthAdjust="spacing" fill="#4a90e2" stroke="#4a90e2" stroke-width="0.80">K</text>
<text class="c" x="564.36" y="472.40" font-size="38.60" textLength="40.10" lengthAdjust="spacingAndGlyphs" fill="#454545">周</text>
<text class="n" transform="matrix(0.900 0 0 1 603.50 0)" x="0" y="470.90" font-size="39.24" textLength="28.17" lengthAdjust="spacing" fill="#454545" stroke="#454545" stroke-width="0.80">K</text>
<text class="c" x="736.09" y="472.40" font-size="38.60" textLength="35.09" lengthAdjust="spacingAndGlyphs" fill="#454545">月</text>
<text class="n" transform="matrix(0.900 0 0 1 772.70 0)" x="0" y="470.90" font-size="39.24" textLength="28.17" lengthAdjust="spacing" fill="#454545" stroke="#454545" stroke-width="0.80">K</text>
<text class="c" x="884.48" y="472.40" font-size="38.60" textLength="35.47" lengthAdjust="spacingAndGlyphs" fill="#454545">年</text>
<text class="n" transform="matrix(0.861 0 0 1 921.22 0)" x="0" y="470.90" font-size="39.24" textLength="27.90" lengthAdjust="spacing" fill="#454545" stroke="#454545" stroke-width="0.80">K</text>
<text class="n" transform="matrix(0.911 0 0 1 57.38 0)" x="0" y="554.55" font-size="25.46" textLength="177.86" lengthAdjust="spacing" fill="#3c9eef" stroke="#3c9eef" stroke-width="0.90">MA 5: 3257.65</text>
<text class="a" font-weight="300" x="214.35" y="556.67" font-size="24.57" textLength="40.80" lengthAdjust="spacingAndGlyphs" fill="#3c9eef">↓</text>
<text class="n" transform="matrix(0.907 0 0 1 267.04 0)" x="0" y="554.55" font-size="25.46" textLength="144.50" lengthAdjust="spacing" fill="#e8b42c" stroke="#e8b42c" stroke-width="0.90">10: 3270.88</text>
<text class="a" font-weight="300" x="393.10" y="556.67" font-size="24.57" textLength="40.80" lengthAdjust="spacingAndGlyphs" fill="#e8b42c">↓</text>
<text class="n" transform="matrix(0.897 0 0 1 446.95 0)" x="0" y="554.55" font-size="25.46" textLength="144.50" lengthAdjust="spacing" fill="#9a6af0" stroke="#9a6af0" stroke-width="0.90">20: 3287.58</text>
<text class="a" font-weight="300" x="571.55" y="557.64" font-size="24.57" textLength="40.80" lengthAdjust="spacingAndGlyphs" fill="#9a6af0">↑</text>
<text class="n" transform="matrix(0.901 0 0 1 625.75 0)" x="0" y="554.55" font-size="25.46" textLength="144.57" lengthAdjust="spacing" fill="#ad2a2e" stroke="#ad2a2e" stroke-width="0.90">30: 3175.93</text>
<text class="a" font-weight="300" x="750.95" y="557.64" font-size="24.57" textLength="40.80" lengthAdjust="spacingAndGlyphs" fill="#ad2a2e">↑</text>
<text class="c" x="853.24" y="556.00" font-size="31.40" textLength="127.96" lengthAdjust="spacingAndGlyphs" fill="#4a90e2" font-weight="350">区间统计</text>
<text class="n" transform="matrix(0.914 0 0 1 27.84 0)" x="0" y="624.50" font-size="26.11" textLength="101.37" lengthAdjust="spacing" fill="#9a9a9a">3492.38</text>
<text class="n" transform="matrix(0.863 0 0 1 30.04 0)" x="0" y="1009.60" font-size="27.17" textLength="105.39" lengthAdjust="spacing" fill="#9a9a9a">2753.47</text>
<text class="n" transform="matrix(0.878 0 0 1 649.12 0)" x="0" y="614.40" font-size="27.27" textLength="105.81" lengthAdjust="spacing" fill="#3f3f3f">3458.79</text>
<text class="n" transform="matrix(0.859 0 0 1 90.94 0)" x="0" y="1012.20" font-size="27.17" textLength="105.47" lengthAdjust="spacing" fill="#3f3f3f">2800.74</text>
<text class="n" transform="matrix(0.859 0 0 1 48.58 0)" x="0" y="1103.45" font-size="26.63" textLength="84.00" lengthAdjust="spacing" fill="#454545" stroke="#454545" stroke-width="0.60">MACD</text>
<text class="n" transform="matrix(0.856 0 0 1 189.19 0)" x="0" y="1103.35" font-size="26.34" textLength="204.20" lengthAdjust="spacing" fill="#454545" stroke="#454545" stroke-width="0.80">MACD(12,26,9):</text>
<text class="n" transform="matrix(0.862 0 0 1 376.18 0)" x="0" y="1103.35" font-size="26.34" textLength="171.29" lengthAdjust="spacing" fill="#43a64d" stroke="#43a64d" stroke-width="0.80">MACD:-54.05</text>
<text class="a" font-weight="300" x="515.58" y="1105.59" font-size="24.91" textLength="46.69" lengthAdjust="spacingAndGlyphs" fill="#43a64d">↓</text>
<text class="n" transform="matrix(0.854 0 0 1 571.39 0)" x="0" y="1103.35" font-size="26.34" textLength="141.41" lengthAdjust="spacing" fill="#454545" stroke="#454545" stroke-width="0.80">DIFF:53.83</text>
<text class="a" font-weight="300" x="683.88" y="1105.59" font-size="24.91" textLength="46.69" lengthAdjust="spacingAndGlyphs" fill="#454545">↓</text>
<text class="n" transform="matrix(0.837 0 0 1 739.73 0)" x="0" y="1103.35" font-size="26.34" textLength="136.72" lengthAdjust="spacing" fill="#dfa52c" stroke="#dfa52c" stroke-width="0.80">DEA:80.86</text>
<text class="a" font-weight="300" x="845.88" y="1105.59" font-size="24.91" textLength="46.69" lengthAdjust="spacingAndGlyphs" fill="#dfa52c">↓</text>
<text class="n" transform="matrix(0.954 0 0 1 56.35 0)" x="0" y="1157.20" font-size="24.09" textLength="64.68" lengthAdjust="spacing" fill="#454545" stroke="#454545" stroke-width="0.60">137.9</text>
<text class="n" x="55.30" y="1249.70" font-size="24.09" textLength="74.79" lengthAdjust="spacing" fill="#454545" stroke="#454545" stroke-width="0.60">-54.05</text>
<text class="n" transform="matrix(0.811 0 0 1 59.68 0)" x="0" y="1304.20" font-size="25.57" textLength="60.89" lengthAdjust="spacing" fill="#454545" stroke="#454545" stroke-width="0.60">ROC</text>
<text class="n" transform="matrix(0.897 0 0 1 195.61 0)" x="0" y="1304.10" font-size="25.81" textLength="141.49" lengthAdjust="spacing" fill="#454545" stroke="#454545" stroke-width="0.80">ROC(12,6):</text>
<text class="n" transform="matrix(0.907 0 0 1 335.59 0)" x="0" y="1304.10" font-size="25.81" textLength="132.39" lengthAdjust="spacing" fill="#dfa52c" stroke="#dfa52c" stroke-width="0.80">ROC:-4.59</text>
<text class="a" font-weight="300" x="450.36" y="1307.17" font-size="24.96" textLength="41.46" lengthAdjust="spacingAndGlyphs" fill="#dfa52c">↑</text>
<text class="n" transform="matrix(0.921 0 0 1 497.56 0)" x="0" y="1304.10" font-size="25.81" textLength="174.00" lengthAdjust="spacing" fill="#454545" stroke="#454545" stroke-width="0.80">MAROC:-2.17</text>
<text class="a" font-weight="300" x="652.51" y="1306.19" font-size="24.96" textLength="41.46" lengthAdjust="spacingAndGlyphs" fill="#454545">↓</text>
<text class="n" transform="matrix(0.919 0 0 1 56.38 0)" x="0" y="1358.45" font-size="25.25" textLength="67.79" lengthAdjust="spacing" fill="#454545" stroke="#454545" stroke-width="0.60">16.27</text>
<text class="n" x="55.30" y="1450.95" font-size="25.25" textLength="59.94" lengthAdjust="spacing" fill="#454545" stroke="#454545" stroke-width="0.60">-7.11</text>
<text class="n" transform="matrix(0.982 0 0 1 28.67 0)" x="0" y="1490.35" font-size="25.26" textLength="120.63" lengthAdjust="spacing" fill="#9a9a9a" stroke="#9a9a9a" stroke-width="0.30">2020/4/29</text>
<text class="n" x="452.65" y="1490.35" font-size="25.26" textLength="120.74" lengthAdjust="spacing" fill="#9a9a9a" stroke="#9a9a9a" stroke-width="0.30">2020/6/15</text>
<text class="n" x="876.65" y="1490.35" font-size="25.26" textLength="120.74" lengthAdjust="spacing" fill="#9a9a9a" stroke="#9a9a9a" stroke-width="0.30">2020/7/28</text>
<text class="c" x="71.01" y="1569.50" font-size="38.00" textLength="74.97" lengthAdjust="spacingAndGlyphs" fill="#dc3b3b">上涨</text>
<text class="n" transform="matrix(0.890 0 0 1 167.47 0)" x="0" y="1568.45" font-size="36.63" textLength="126.79" lengthAdjust="spacing" fill="#dc3b3b" stroke="#dc3b3b" stroke-width="0.70">1228<tspan class="c" stroke-width="0">家</tspan></text>
<text class="c" x="416.52" y="1569.50" font-size="38.00" textLength="74.46" lengthAdjust="spacingAndGlyphs" fill="#b8c5d6">平盘</text>
<text class="n" transform="matrix(0.922 0 0 1 511.01 0)" x="0" y="1568.45" font-size="36.63" textLength="104.89" lengthAdjust="spacing" fill="#b8c5d6" stroke="#b8c5d6" stroke-width="0.70">135<tspan class="c" stroke-width="0">家</tspan></text>
<text class="c" x="751.51" y="1569.50" font-size="38.00" textLength="75.48" lengthAdjust="spacingAndGlyphs" fill="#43a64d">下跌</text>
<text class="n" transform="matrix(0.917 0 0 1 846.35 0)" x="0" y="1568.45" font-size="36.63" textLength="105.04" lengthAdjust="spacing" fill="#43a64d" stroke="#43a64d" stroke-width="0.70">412<tspan class="c" stroke-width="0">家</tspan></text>
</g>
<g id="right" transform="matrix(0.9943 0 0 0.99663 1015.44 13.68)">
<rect x="8.4" y="-2.2" width="1008.3" height="127.7" fill="#141414"/>
<path d="M78.3 42.6 L53.6 66.5 L78.3 90.4" fill="none" stroke="#fff" stroke-width="4.9" stroke-linecap="butt" stroke-linejoin="miter"/>
<path d="M341 53 L322.7 66.5 L341 80 Z" fill="#9b9b9b"/>
<path d="M686 53 L703.5 66.5 L686 80 Z" fill="#9b9b9b"/>
<rect x="840.8" y="44.3" width="27.6" height="44.4" rx="5" fill="none" stroke="#fff" stroke-width="4.4"/>
<path d="M868.4 62.6 H883.5 Q886.6 62.6 886.6 65.7 V85.6 Q886.6 88.7 883.5 88.7 H868.4" fill="none" stroke="#fff" stroke-width="4.4"/>
<line x1="848" y1="51" x2="860" y2="51" stroke="#fff" stroke-width="2"/>
<circle cx="854.2" cy="81.6" r="1.9" fill="#fff"/>
<path d="M873.5 44.5 L885.5 54.5 M879.5 55 H886.5 V48" fill="none" stroke="#fff" stroke-width="2.6"/>
<circle cx="941.5" cy="63.6" r="20" fill="none" stroke="#fff" stroke-width="4.6"/>
<line x1="956.5" y1="79" x2="966.5" y2="89" stroke="#fff" stroke-width="8.5"/>
<rect x="330.1" y="174.7" width="85.0" height="44.4" rx="6" fill="none" stroke="#4a90e2" stroke-width="2.2"/>
<circle cx="949.4" cy="178.8" r="24.8" fill="none" stroke="#4a90e2" stroke-width="3.5"/>
<path d="M937.6 179 H961.2 M949.4 167.2 V190.8" stroke="#4a90e2" stroke-width="4.2"/>
<line x1="227.5" y1="307" x2="227.5" y2="398" stroke="#767c82" stroke-width="2.9" stroke-linecap="round" stroke-dasharray="0.01 8.05"/>
<line x1="445.5" y1="307" x2="445.5" y2="398" stroke="#767c82" stroke-width="2.9" stroke-linecap="round" stroke-dasharray="0.01 8.05"/>
<line x1="663.8" y1="307" x2="663.8" y2="398" stroke="#767c82" stroke-width="2.9" stroke-linecap="round" stroke-dasharray="0.01 8.05"/>
<line x1="882.4" y1="307" x2="882.4" y2="398" stroke="#767c82" stroke-width="2.9" stroke-linecap="round" stroke-dasharray="0.01 8.05"/>
<path d="M933 347.5 L949.7 364 L966.4 347.5" fill="none" stroke="#b9c5d1" stroke-width="4"/>
<line x1="12" y1="408.6" x2="1016.5" y2="408.6" stroke="#e1e1e1" stroke-width="1.8"/>
<line x1="12" y1="501.2" x2="1016.5" y2="501.2" stroke="#e1e1e1" stroke-width="1.8"/>
<line x1="12" y1="1032.0" x2="1016.5" y2="1032.0" stroke="#e1e1e1" stroke-width="1.8"/>
<line x1="12" y1="1057.0" x2="1016.5" y2="1057.0" stroke="#e1e1e1" stroke-width="1.8"/>
<line x1="12" y1="1127.8" x2="1016.5" y2="1127.8" stroke="#e1e1e1" stroke-width="1.8"/>
<line x1="12" y1="1258.6" x2="1016.5" y2="1258.6" stroke="#e1e1e1" stroke-width="1.8"/>
<line x1="12" y1="1329.6" x2="1016.5" y2="1329.6" stroke="#e1e1e1" stroke-width="1.8"/>
<line x1="12" y1="1460.6" x2="1016.5" y2="1460.6" stroke="#e1e1e1" stroke-width="1.8"/>
<line x1="12" y1="1500.6" x2="1016.5" y2="1500.6" stroke="#e1e1e1" stroke-width="1.8"/>
<rect x="362" y="495" width="134.3" height="5.2" fill="#4a90e2"/>
<path d="M955.3 450.5 H982.2 L968.75 468.9 Z" fill="#505050"/>
<rect x="836.1" y="517.0" width="163.1" height="50.6" rx="9" fill="none" stroke="#4a90e2" stroke-width="2.5"/>
<rect x="29.8" y="1069.8" width="143.7" height="46.7" rx="5" fill="none" stroke="#dadada" stroke-width="2"/>
<path d="M128.75 1083.8 H155 L141.9 1102.5 Z" fill="#454545"/>
<rect x="30.5" y="1271" width="143" height="46.7" rx="5" fill="none" stroke="#dadada" stroke-width="2"/>
<path d="M118 1285.5 H143.75 L130.9 1303.75 Z" fill="#454545"/>
<path d="M973.78 1086.41 L979.55 1087.62 L979.55 1094.38 L973.78 1095.59 L972.17 1099.48 L975.39 1104.41 L970.61 1109.19 L965.68 1105.97 L961.79 1107.58 L960.58 1113.35 L953.82 1113.35 L952.61 1107.58 L948.72 1105.97 L943.79 1109.19 L939.01 1104.41 L942.23 1099.48 L940.62 1095.59 L934.85 1094.38 L934.85 1087.62 L940.62 1086.41 L942.23 1082.52 L939.01 1077.59 L943.79 1072.81 L948.72 1076.03 L952.61 1074.42 L953.82 1068.65 L960.58 1068.65 L961.79 1074.42 L965.68 1076.03 L970.61 1072.81 L975.39 1077.59 L972.17 1082.52 Z" fill="none" stroke="#3a8ee6" stroke-width="3.4" stroke-linejoin="round"/><circle cx="957.2" cy="1091.0" r="8" fill="none" stroke="#3a8ee6" stroke-width="3.4"/>
<line x1="13" y1="582.5" x2="1016" y2="582.5" stroke="#d6d6d6" stroke-width="1.2" stroke-dasharray="3.6 4.4"/>
<line x1="13" y1="694.2" x2="1016" y2="694.2" stroke="#d6d6d6" stroke-width="1.2" stroke-dasharray="3.6 4.4"/>
<line x1="13" y1="805.9" x2="1016" y2="805.9" stroke="#d6d6d6" stroke-width="1.2" stroke-dasharray="3.6 4.4"/>
<line x1="13" y1="917.6" x2="1016" y2="917.6" stroke="#d6d6d6" stroke-width="1.2" stroke-dasharray="3.6 4.4"/>
<g clip-path="url(#clipR)">
<rect x="20.80" y="976.7" width="2.4" height="14.4" fill="#e0403c"/>
<rect x="14.60" y="985.5" width="14.8" height="3.5" fill="#e0403c"/>
<rect x="37.21" y="959.5" width="2.4" height="17.3" fill="#e0403c"/>
<rect x="31.01" y="962.6" width="14.8" height="14.1" fill="#e0403c"/>
<rect x="53.62" y="945.7" width="2.4" height="27.0" fill="#e0403c"/>
<rect x="47.42" y="945.7" width="14.8" height="27.0" fill="#e0403c"/>
<rect x="70.03" y="941.3" width="2.4" height="8.8" fill="#45a74f"/>
<rect x="63.83" y="944.8" width="14.8" height="2.2" fill="#45a74f"/>
<rect x="86.44" y="927.5" width="2.4" height="15.5" fill="#e0403c"/>
<rect x="80.24" y="933.3" width="14.8" height="7.5" fill="#e0403c"/>
<rect x="102.85" y="923.1" width="2.4" height="19.1" fill="#45a74f"/>
<rect x="96.65" y="927.9" width="14.8" height="7.1" fill="#45a74f"/>
<rect x="119.26" y="932.0" width="2.4" height="14.1" fill="#e0403c"/>
<rect x="113.06" y="932.0" width="14.8" height="3.5" fill="#e0403c"/>
<rect x="135.67" y="923.1" width="2.4" height="14.1" fill="#e0403c"/>
<rect x="129.47" y="925.7" width="14.8" height="8.0" fill="#e0403c"/>
<rect x="152.08" y="928.4" width="2.4" height="9.2" fill="#45a74f"/>
<rect x="145.88" y="931.1" width="14.8" height="4.9" fill="#45a74f"/>
<rect x="168.49" y="929.4" width="2.4" height="11.4" fill="#45a74f"/>
<rect x="162.29" y="932.9" width="14.8" height="2.6" fill="#45a74f"/>
<rect x="184.90" y="931.5" width="2.4" height="16.1" fill="#45a74f"/>
<rect x="178.70" y="936.9" width="14.8" height="3.9" fill="#45a74f"/>
<rect x="201.31" y="927.5" width="2.4" height="4.4" fill="#e0403c"/>
<rect x="195.11" y="927.5" width="14.8" height="2.6" fill="#e0403c"/>
<rect x="217.72" y="927.5" width="2.4" height="14.1" fill="#45a74f"/>
<rect x="211.52" y="927.5" width="14.8" height="10.1" fill="#45a74f"/>
<rect x="234.13" y="933.8" width="2.4" height="17.7" fill="#45a74f"/>
<rect x="227.93" y="933.8" width="14.8" height="15.1" fill="#45a74f"/>
<rect x="250.54" y="951.0" width="2.4" height="27.9" fill="#45a74f"/>
<rect x="244.34" y="951.0" width="14.8" height="23.0" fill="#45a74f"/>
<rect x="266.95" y="972.3" width="2.4" height="9.2" fill="#45a74f"/>
<rect x="260.75" y="975.4" width="14.8" height="1.8" fill="#45a74f"/>
<rect x="283.36" y="955.4" width="2.4" height="14.1" fill="#e0403c"/>
<rect x="277.16" y="955.4" width="14.8" height="13.2" fill="#e0403c"/>
<rect x="299.77" y="953.2" width="2.4" height="15.1" fill="#45a74f"/>
<rect x="293.57" y="953.2" width="14.8" height="9.3" fill="#45a74f"/>
<rect x="316.18" y="962.6" width="2.4" height="22.1" fill="#45a74f"/>
<rect x="309.98" y="965.2" width="14.8" height="3.1" fill="#45a74f"/>
<rect x="332.59" y="957.6" width="2.4" height="18.2" fill="#e0403c"/>
<rect x="326.39" y="960.8" width="14.8" height="12.3" fill="#e0403c"/>
<rect x="349.00" y="920.4" width="2.4" height="29.3" fill="#e0403c"/>
<rect x="342.80" y="921.8" width="14.8" height="27.9" fill="#e0403c"/>
<rect x="365.41" y="917.5" width="2.4" height="8.8" fill="#45a74f"/>
<rect x="359.21" y="919.7" width="14.8" height="1.8" fill="#45a74f"/>
<rect x="381.82" y="912.2" width="2.4" height="8.8" fill="#45a74f"/>
<rect x="375.62" y="917.5" width="14.8" height="3.5" fill="#45a74f"/>
<rect x="398.23" y="916.2" width="2.4" height="7.5" fill="#45a74f"/>
<rect x="392.03" y="918.4" width="14.8" height="1.8" fill="#45a74f"/>
<rect x="414.64" y="914.9" width="2.4" height="8.3" fill="#e0403c"/>
<rect x="408.44" y="914.9" width="14.8" height="1.8" fill="#e0403c"/>
<rect x="431.05" y="898.0" width="2.4" height="14.1" fill="#45a74f"/>
<rect x="424.85" y="905.6" width="14.8" height="4.0" fill="#45a74f"/>
<rect x="447.46" y="902.1" width="2.4" height="9.7" fill="#e0403c"/>
<rect x="441.26" y="904.3" width="14.8" height="3.1" fill="#e0403c"/>
<rect x="463.87" y="898.4" width="2.4" height="7.5" fill="#e0403c"/>
<rect x="457.67" y="898.4" width="14.8" height="2.7" fill="#e0403c"/>
<rect x="480.28" y="891.4" width="2.4" height="21.7" fill="#45a74f"/>
<rect x="474.08" y="899.4" width="14.8" height="7.1" fill="#45a74f"/>
<rect x="496.69" y="902.1" width="2.4" height="30.1" fill="#e0403c"/>
<rect x="490.49" y="907.4" width="14.8" height="23.0" fill="#e0403c"/>
<rect x="513.10" y="896.3" width="2.4" height="15.6" fill="#45a74f"/>
<rect x="506.90" y="907.8" width="14.8" height="3.1" fill="#45a74f"/>
<rect x="529.51" y="891.7" width="2.4" height="10.1" fill="#e0403c"/>
<rect x="523.31" y="891.7" width="14.8" height="7.9" fill="#e0403c"/>
<rect x="545.92" y="889.5" width="2.4" height="7.9" fill="#45a74f"/>
<rect x="539.72" y="889.5" width="14.8" height="1.8" fill="#45a74f"/>
<rect x="562.33" y="880.6" width="2.4" height="10.2" fill="#e0403c"/>
<rect x="556.13" y="882.0" width="14.8" height="6.6" fill="#e0403c"/>
<rect x="578.74" y="860.2" width="2.4" height="19.1" fill="#e0403c"/>
<rect x="572.54" y="863.3" width="14.8" height="16.0" fill="#e0403c"/>
<rect x="595.15" y="854.5" width="2.4" height="8.8" fill="#e0403c"/>
<rect x="588.95" y="859.8" width="14.8" height="1.8" fill="#e0403c"/>
<rect x="611.56" y="850.1" width="2.4" height="14.1" fill="#e0403c"/>
<rect x="605.36" y="850.1" width="14.8" height="7.5" fill="#e0403c"/>
<rect x="627.97" y="843.9" width="2.4" height="8.8" fill="#e0403c"/>
<rect x="621.77" y="848.3" width="14.8" height="1.8" fill="#e0403c"/>
<rect x="644.38" y="848.3" width="2.4" height="11.5" fill="#45a74f"/>
<rect x="638.18" y="851.9" width="14.8" height="1.8" fill="#45a74f"/>
<rect x="660.79" y="827.5" width="2.4" height="18.2" fill="#e0403c"/>
<rect x="654.59" y="829.3" width="14.8" height="16.4" fill="#e0403c"/>
<rect x="677.20" y="817.0" width="2.4" height="16.3" fill="#e0403c"/>
<rect x="671.00" y="817.0" width="14.8" height="7.7" fill="#e0403c"/>
<rect x="693.61" y="800.3" width="2.4" height="21.3" fill="#e0403c"/>
<rect x="687.41" y="800.3" width="14.8" height="17.0" fill="#e0403c"/>
<rect x="710.02" y="783.3" width="2.4" height="19.8" fill="#e0403c"/>
<rect x="703.82" y="783.3" width="14.8" height="12.8" fill="#e0403c"/>
<rect x="726.43" y="729.6" width="2.4" height="43.9" fill="#e0403c"/>
<rect x="720.23" y="730.2" width="14.8" height="42.7" fill="#e0403c"/>
<rect x="742.84" y="681.0" width="2.4" height="42.4" fill="#e0403c"/>
<rect x="736.64" y="707.0" width="14.8" height="6.7" fill="#e0403c"/>
<rect x="759.25" y="678.7" width="2.4" height="37.8" fill="#e0403c"/>
<rect x="753.05" y="681.3" width="14.8" height="23.7" fill="#e0403c"/>
<rect x="775.66" y="640.9" width="2.4" height="40.1" fill="#e0403c"/>
<rect x="769.46" y="644.7" width="14.8" height="36.3" fill="#e0403c"/>
<rect x="792.07" y="637.0" width="2.4" height="23.2" fill="#e0403c"/>
<rect x="785.87" y="653.9" width="14.8" height="1.8" fill="#e0403c"/>
<rect x="808.48" y="604.3" width="2.4" height="45.1" fill="#e0403c"/>
<rect x="802.28" y="604.6" width="14.8" height="44.8" fill="#e0403c"/>
<rect x="824.89" y="603.0" width="2.4" height="47.2" fill="#45a74f"/>
<rect x="818.69" y="606.6" width="14.8" height="11.4" fill="#45a74f"/>
<rect x="841.30" y="610.6" width="2.4" height="45.1" fill="#45a74f"/>
<rect x="835.10" y="617.2" width="14.8" height="29.0" fill="#45a74f"/>
<rect x="857.71" y="634.5" width="2.4" height="92.9" fill="#45a74f"/>
<rect x="851.51" y="647.3" width="14.8" height="76.7" fill="#45a74f"/>
<rect x="874.12" y="690.6" width="2.4" height="41.1" fill="#e0403c"/>
<rect x="867.92" y="711.8" width="14.8" height="11.0" fill="#e0403c"/>
<rect x="890.53" y="676.7" width="2.4" height="42.8" fill="#e0403c"/>
<rect x="884.33" y="676.7" width="14.8" height="13.9" fill="#e0403c"/>
<rect x="906.94" y="665.1" width="2.4" height="16.2" fill="#e0403c"/>
<rect x="900.74" y="667.9" width="14.8" height="4.7" fill="#e0403c"/>
<rect x="923.35" y="638.4" width="2.4" height="36.7" fill="#e0403c"/>
<rect x="917.15" y="655.0" width="14.8" height="14.4" fill="#e0403c"/>
<rect x="939.76" y="650.6" width="2.4" height="42.8" fill="#e0403c"/>
<rect x="933.56" y="654.5" width="14.8" height="14.4" fill="#e0403c"/>
<rect x="956.17" y="661.1" width="2.4" height="75.7" fill="#45a74f"/>
<rect x="949.97" y="666.2" width="14.8" height="63.4" fill="#45a74f"/>
<rect x="972.58" y="714.5" width="2.4" height="25.6" fill="#45a74f"/>
<rect x="966.38" y="722.9" width="14.8" height="2.3" fill="#45a74f"/>
<rect x="988.99" y="703.4" width="2.4" height="17.3" fill="#e0403c"/>
<rect x="982.79" y="709.0" width="14.8" height="2.2" fill="#e0403c"/>
<path d="M5.6 1010.1 C8.3 1009.9 16.5 1009.6 22.0 1008.9 C27.5 1008.3 32.9 1007.3 38.4 1006.3 C43.9 1005.3 49.4 1003.8 54.8 1002.8 C60.3 1001.7 65.8 1001.1 71.2 999.9 C76.7 998.6 82.2 996.7 87.6 995.4 C93.1 994.1 98.6 992.9 104.0 991.8 C109.5 990.7 115.0 989.9 120.5 988.9 C125.9 987.9 131.4 986.6 136.9 985.6 C142.3 984.5 147.8 983.7 153.3 982.7 C158.8 981.7 164.2 980.5 169.7 979.5 C175.2 978.5 180.6 977.7 186.1 976.6 C191.6 975.5 197.0 974.1 202.5 973.1 C208.0 972.1 213.5 971.3 218.9 970.5 C224.4 969.7 229.9 968.6 235.3 968.1 C240.8 967.5 246.3 967.5 251.7 967.3 C257.2 967.0 262.7 966.8 268.1 966.5 C273.6 966.1 279.1 965.6 284.6 965.1 C290.0 964.6 295.5 964.1 301.0 963.6 C306.4 963.1 311.9 962.6 317.4 962.1 C322.9 961.7 328.3 961.6 333.8 961.0 C339.3 960.4 344.7 959.5 350.2 958.7 C355.7 958.0 361.1 957.2 366.6 956.6 C372.1 955.9 377.5 955.2 383.0 954.6 C388.5 954.0 394.0 953.5 399.4 952.9 C404.9 952.2 410.4 951.4 415.8 950.6 C421.3 949.8 426.8 949.1 432.2 948.3 C437.7 947.5 443.2 946.7 448.7 945.8 C454.1 944.8 459.6 943.6 465.1 942.6 C470.5 941.7 476.0 940.8 481.5 939.9 C487.0 939.0 492.4 938.0 497.9 937.1 C503.4 936.2 508.8 935.4 514.3 934.6 C519.8 933.8 525.2 933.0 530.7 932.3 C536.2 931.6 541.6 931.1 547.1 930.4 C552.6 929.8 558.1 929.0 563.5 928.3 C569.0 927.5 574.5 926.7 579.9 925.9 C585.4 925.1 590.9 924.3 596.4 923.4 C601.8 922.6 607.3 921.6 612.8 920.7 C618.2 919.8 623.7 919.0 629.2 918.1 C634.6 917.2 640.1 916.4 645.6 915.4 C651.1 914.3 656.5 913.1 662.0 911.8 C667.5 910.5 672.9 909.1 678.4 907.7 C683.9 906.3 689.3 905.0 694.8 903.5 C700.3 901.9 705.8 900.4 711.2 898.3 C716.7 896.2 722.2 893.7 727.6 891.0 C733.1 888.3 738.6 885.2 744.0 882.1 C749.5 879.0 755.0 875.6 760.5 872.3 C765.9 868.9 771.4 865.4 776.9 861.9 C782.3 858.5 787.8 855.4 793.3 851.6 C798.7 847.9 804.2 843.4 809.7 839.5 C815.2 835.6 820.6 831.5 826.1 828.1 C831.6 824.6 837.0 821.5 842.5 818.9 C848.0 816.3 853.4 814.6 858.9 812.3 C864.4 810.1 869.9 807.9 875.3 805.4 C880.8 802.8 886.3 800.0 891.7 797.2 C897.2 794.5 902.7 791.8 908.1 789.0 C913.6 786.2 919.1 783.3 924.5 780.5 C930.0 777.7 935.5 774.5 941.0 772.2 C946.4 769.9 951.9 768.5 957.4 766.6 C962.8 764.6 968.3 762.7 973.8 760.6 C979.2 758.4 987.5 755.0 990.2 753.9" fill="none" stroke="#a31c20" stroke-width="2.3" stroke-linejoin="round"/>
<path d="M5.6 997.4 C8.3 997.0 16.5 996.2 22.0 995.3 C27.5 994.3 32.9 992.9 38.4 991.7 C43.9 990.6 49.4 989.5 54.8 988.3 C60.3 987.1 65.8 985.7 71.2 984.6 C76.7 983.4 82.2 982.4 87.6 981.3 C93.1 980.2 98.6 979.1 104.0 978.0 C109.5 976.9 115.0 976.0 120.5 974.8 C125.9 973.6 131.4 972.0 136.9 970.7 C142.3 969.4 147.8 968.0 153.3 966.9 C158.8 965.8 164.2 964.8 169.7 963.9 C175.2 963.0 180.6 962.4 186.1 961.5 C191.6 960.6 197.0 959.4 202.5 958.5 C208.0 957.7 213.5 957.0 218.9 956.5 C224.4 955.9 229.9 955.5 235.3 955.3 C240.8 955.0 246.3 954.9 251.7 954.8 C257.2 954.7 262.7 954.9 268.1 954.7 C273.6 954.5 279.1 953.9 284.6 953.5 C290.0 953.0 295.5 952.4 301.0 952.0 C306.4 951.6 311.9 951.4 317.4 951.0 C322.9 950.5 328.3 950.2 333.8 949.5 C339.3 948.7 344.7 947.1 350.2 946.3 C355.7 945.4 361.1 944.7 366.6 944.2 C372.1 943.6 377.5 943.4 383.0 943.0 C388.5 942.5 394.0 942.0 399.4 941.6 C404.9 941.2 410.4 941.1 415.8 940.7 C421.3 940.3 426.8 939.9 432.2 939.4 C437.7 939.0 443.2 938.5 448.7 938.0 C454.1 937.6 459.6 937.1 465.1 936.7 C470.5 936.2 476.0 935.7 481.5 935.2 C487.0 934.7 492.4 934.3 497.9 933.8 C503.4 933.3 508.8 932.8 514.3 932.3 C519.8 931.7 525.2 931.2 530.7 930.5 C536.2 929.8 541.6 929.1 547.1 928.2 C552.6 927.2 558.1 926.3 563.5 924.8 C569.0 923.4 574.5 921.2 579.9 919.3 C585.4 917.4 590.9 915.3 596.4 913.5 C601.8 911.6 607.3 910.0 612.8 908.2 C618.2 906.4 623.7 904.4 629.2 902.5 C634.6 900.6 640.1 898.8 645.6 896.7 C651.1 894.7 656.5 892.1 662.0 890.2 C667.5 888.2 672.9 886.8 678.4 884.9 C683.9 883.0 689.3 881.0 694.8 878.9 C700.3 876.7 705.8 874.7 711.2 872.0 C716.7 869.3 722.2 865.8 727.6 862.5 C733.1 859.2 738.6 855.7 744.0 852.1 C749.5 848.5 755.0 844.7 760.5 840.7 C765.9 836.6 771.4 831.9 776.9 827.7 C782.3 823.5 787.8 820.0 793.3 815.5 C798.7 810.9 804.2 805.3 809.7 800.4 C815.2 795.5 820.6 790.5 826.1 785.9 C831.6 781.3 837.0 776.3 842.5 772.7 C848.0 769.1 853.4 767.2 858.9 764.3 C864.4 761.4 869.9 758.5 875.3 755.3 C880.8 752.1 886.3 748.4 891.7 745.1 C897.2 741.7 902.7 738.6 908.1 735.3 C913.6 732.0 919.1 728.4 924.5 725.0 C930.0 721.7 935.5 717.9 941.0 715.3 C946.4 712.7 951.9 711.4 957.4 709.3 C962.8 707.3 968.3 705.0 973.8 703.0 C979.2 700.9 987.5 697.9 990.2 696.9" fill="none" stroke="#9a6af0" stroke-width="2.3" stroke-linejoin="round"/>
<path d="M5.6 984.1 C8.3 984.0 16.5 984.1 22.0 983.7 C27.5 983.2 32.9 982.2 38.4 981.3 C43.9 980.3 49.4 979.0 54.8 978.0 C60.3 977.0 65.8 976.6 71.2 975.4 C76.7 974.1 82.2 972.0 87.6 970.4 C93.1 968.9 98.6 967.6 104.0 966.1 C109.5 964.5 115.0 963.1 120.5 961.2 C125.9 959.3 131.4 956.5 136.9 954.6 C142.3 952.6 147.8 951.1 153.3 949.3 C158.8 947.5 164.2 945.4 169.7 943.7 C175.2 942.1 180.6 940.6 186.1 939.3 C191.6 937.9 197.0 936.5 202.5 935.8 C208.0 935.0 213.5 935.1 218.9 935.0 C224.4 934.9 229.9 934.4 235.3 935.1 C240.8 935.8 246.3 937.8 251.7 939.2 C257.2 940.6 262.7 942.3 268.1 943.4 C273.6 944.5 279.1 944.7 284.6 945.7 C290.0 946.7 295.5 948.3 301.0 949.4 C306.4 950.6 311.9 951.7 317.4 952.6 C322.9 953.6 328.3 955.1 333.8 955.2 C339.3 955.3 344.7 953.7 350.2 953.3 C355.7 952.8 361.1 953.0 366.6 952.6 C372.1 952.2 377.5 951.7 383.0 951.0 C388.5 950.2 394.0 949.5 399.4 948.1 C404.9 946.6 410.4 944.3 415.8 942.2 C421.3 940.1 426.8 937.4 432.2 935.5 C437.7 933.5 443.2 932.3 448.7 930.3 C454.1 928.4 459.6 926.0 465.1 923.9 C470.5 921.8 476.0 919.7 481.5 917.8 C487.0 915.8 492.4 913.5 497.9 912.4 C503.4 911.3 508.8 912.0 514.3 911.3 C519.8 910.6 525.2 909.4 530.7 908.4 C536.2 907.4 541.6 906.5 547.1 905.4 C552.6 904.3 558.1 903.1 563.5 901.6 C569.0 900.1 574.5 898.1 579.9 896.4 C585.4 894.8 590.9 893.2 596.4 891.5 C601.8 889.7 607.3 887.8 612.8 886.0 C618.2 884.3 623.7 882.8 629.2 881.0 C634.6 879.3 640.1 877.9 645.6 875.7 C651.1 873.5 656.5 870.8 662.0 867.9 C667.5 865.0 672.9 861.6 678.4 858.5 C683.9 855.4 689.3 852.7 694.8 849.4 C700.3 846.0 705.8 842.9 711.2 838.6 C716.7 834.2 722.2 828.5 727.6 823.4 C733.1 818.3 738.6 813.3 744.0 807.8 C749.5 802.2 755.0 796.3 760.5 789.9 C765.9 783.5 771.4 776.0 776.9 769.4 C782.3 762.7 787.8 757.3 793.3 749.9 C798.7 742.5 804.2 732.7 809.7 725.1 C815.2 717.4 820.6 710.3 826.1 703.9 C831.6 697.6 837.0 691.0 842.5 686.9 C848.0 682.7 853.4 681.7 858.9 679.2 C864.4 676.8 869.9 674.2 875.3 672.1 C880.8 670.0 886.3 668.3 891.7 666.7 C897.2 665.2 902.7 663.9 908.1 662.8 C913.6 661.7 919.1 660.5 924.5 660.2 C930.0 659.9 935.5 659.7 941.0 661.2 C946.4 662.6 951.9 665.5 957.4 668.7 C962.8 672.0 968.3 677.4 973.8 680.9 C979.2 684.4 987.5 688.4 990.2 689.9" fill="none" stroke="#e8b42c" stroke-width="2.3" stroke-linejoin="round"/>
<path d="M5.6 986.2 C8.3 986.4 16.5 987.9 22.0 987.5 C27.5 987.1 32.9 986.0 38.4 983.9 C43.9 981.7 49.4 977.5 54.8 974.6 C60.3 971.7 65.8 969.5 71.2 966.2 C76.7 962.9 82.2 958.3 87.6 954.7 C93.1 951.1 98.6 947.3 104.0 944.6 C109.5 941.9 115.0 940.2 120.5 938.5 C125.9 936.8 131.4 935.6 136.9 934.5 C142.3 933.5 147.8 932.6 153.3 932.3 C158.8 932.0 164.2 932.5 169.7 932.8 C175.2 933.0 180.6 933.9 186.1 933.9 C191.6 933.9 197.0 932.8 202.5 933.0 C208.0 933.3 213.5 934.6 218.9 935.4 C224.4 936.2 229.9 936.3 235.3 938.0 C240.8 939.7 246.3 943.2 251.7 945.7 C257.2 948.2 262.7 950.7 268.1 952.9 C273.6 955.0 279.1 956.7 284.6 958.4 C290.0 960.2 295.5 961.9 301.0 963.4 C306.4 964.9 311.9 967.1 317.4 967.3 C322.9 967.5 328.3 966.9 333.8 964.7 C339.3 962.4 344.7 956.7 350.2 953.7 C355.7 950.7 361.1 949.3 366.6 946.8 C372.1 944.3 377.5 941.5 383.0 938.5 C388.5 935.5 394.0 932.0 399.4 928.9 C404.9 925.7 410.4 921.6 415.8 919.7 C421.3 917.8 426.8 918.2 432.2 917.2 C437.7 916.3 443.2 915.2 448.7 913.9 C454.1 912.6 459.6 910.6 465.1 909.4 C470.5 908.2 476.0 907.3 481.5 906.6 C487.0 905.9 492.4 905.3 497.9 905.1 C503.4 904.9 508.8 905.8 514.3 905.4 C519.8 905.0 525.2 903.6 530.7 902.9 C536.2 902.2 541.6 902.5 547.1 901.4 C552.6 900.4 558.1 898.8 563.5 896.6 C569.0 894.3 574.5 890.9 579.9 887.7 C585.4 884.6 590.9 880.6 596.4 877.5 C601.8 874.4 607.3 872.0 612.8 869.2 C618.2 866.4 623.7 863.0 629.2 860.6 C634.6 858.2 640.1 856.9 645.6 854.9 C651.1 852.8 656.5 850.6 662.0 848.0 C667.5 845.5 672.9 842.6 678.4 839.5 C683.9 836.4 689.3 833.4 694.8 829.5 C700.3 825.7 705.8 822.8 711.2 816.5 C716.7 810.3 722.2 800.1 727.6 791.9 C733.1 783.7 738.6 776.1 744.0 767.5 C749.5 758.9 755.0 750.0 760.5 740.3 C765.9 730.6 771.4 718.7 776.9 709.2 C782.3 699.7 787.8 691.8 793.3 683.3 C798.7 674.8 804.2 665.4 809.7 658.2 C815.2 651.1 820.6 644.6 826.1 640.4 C831.6 636.3 837.0 631.9 842.5 633.4 C848.0 634.9 853.4 644.7 858.9 649.2 C864.4 653.8 869.9 656.5 875.3 660.8 C880.8 665.2 886.3 671.2 891.7 675.3 C897.2 679.3 902.7 683.3 908.1 685.2 C913.6 687.2 919.1 689.0 924.5 687.0 C930.0 685.0 935.5 674.8 941.0 673.1 C946.4 671.4 951.9 674.4 957.4 676.7 C962.8 678.9 968.3 683.5 973.8 686.5 C979.2 689.5 987.5 693.2 990.2 694.6" fill="none" stroke="#3c9eef" stroke-width="2.3" stroke-linejoin="round"/>
</g>
<rect x="21.0" y="1219.9" width="2" height="4.4" fill="#e0403c"/>
<rect x="37.4" y="1217.0" width="2" height="7.4" fill="#e0403c"/>
<rect x="53.8" y="1212.8" width="2" height="11.5" fill="#e0403c"/>
<rect x="70.2" y="1211.1" width="2" height="13.2" fill="#e0403c"/>
<rect x="86.6" y="1208.6" width="2" height="15.7" fill="#e0403c"/>
<rect x="103.0" y="1208.3" width="2" height="16.0" fill="#e0403c"/>
<rect x="119.5" y="1208.7" width="2" height="15.7" fill="#e0403c"/>
<rect x="135.9" y="1208.9" width="2" height="15.5" fill="#e0403c"/>
<rect x="152.3" y="1211.7" width="2" height="12.6" fill="#e0403c"/>
<rect x="168.7" y="1214.4" width="2" height="10.0" fill="#e0403c"/>
<rect x="185.1" y="1217.7" width="2" height="6.6" fill="#e0403c"/>
<rect x="201.5" y="1218.3" width="2" height="6.0" fill="#e0403c"/>
<rect x="217.9" y="1221.0" width="2" height="3.3" fill="#e0403c"/>
<rect x="234.3" y="1224.4" width="2" height="1.2" fill="#45a74f"/>
<rect x="250.7" y="1224.4" width="2" height="7.5" fill="#45a74f"/>
<rect x="267.1" y="1224.4" width="2" height="12.1" fill="#45a74f"/>
<rect x="283.6" y="1224.4" width="2" height="11.3" fill="#45a74f"/>
<rect x="300.0" y="1224.4" width="2" height="11.6" fill="#45a74f"/>
<rect x="316.4" y="1224.4" width="2" height="12.3" fill="#45a74f"/>
<rect x="332.8" y="1224.4" width="2" height="11.1" fill="#45a74f"/>
<rect x="349.2" y="1224.4" width="2" height="3.7" fill="#45a74f"/>
<rect x="365.6" y="1223.2" width="2" height="1.2" fill="#e0403c"/>
<rect x="382.0" y="1220.4" width="2" height="3.9" fill="#e0403c"/>
<rect x="398.4" y="1219.0" width="2" height="5.4" fill="#e0403c"/>
<rect x="414.8" y="1217.7" width="2" height="6.7" fill="#e0403c"/>
<rect x="431.2" y="1216.6" width="2" height="7.8" fill="#e0403c"/>
<rect x="447.7" y="1215.6" width="2" height="8.7" fill="#e0403c"/>
<rect x="464.1" y="1214.8" width="2" height="9.5" fill="#e0403c"/>
<rect x="480.5" y="1216.4" width="2" height="7.9" fill="#e0403c"/>
<rect x="496.9" y="1218.2" width="2" height="6.1" fill="#e0403c"/>
<rect x="513.3" y="1220.6" width="2" height="3.8" fill="#e0403c"/>
<rect x="529.7" y="1219.5" width="2" height="4.9" fill="#e0403c"/>
<rect x="546.1" y="1219.3" width="2" height="5.1" fill="#e0403c"/>
<rect x="562.5" y="1218.3" width="2" height="6.1" fill="#e0403c"/>
<rect x="578.9" y="1215.3" width="2" height="9.1" fill="#e0403c"/>
<rect x="595.4" y="1213.7" width="2" height="10.6" fill="#e0403c"/>
<rect x="611.8" y="1212.1" width="2" height="12.3" fill="#e0403c"/>
<rect x="628.2" y="1211.9" width="2" height="12.5" fill="#e0403c"/>
<rect x="644.6" y="1213.6" width="2" height="10.7" fill="#e0403c"/>
<rect x="661.0" y="1211.9" width="2" height="12.5" fill="#e0403c"/>
<rect x="677.4" y="1210.0" width="2" height="14.4" fill="#e0403c"/>
<rect x="693.8" y="1207.4" width="2" height="17.0" fill="#e0403c"/>
<rect x="710.2" y="1204.5" width="2" height="19.9" fill="#e0403c"/>
<rect x="726.6" y="1195.8" width="2" height="28.6" fill="#e0403c"/>
<rect x="743.0" y="1188.7" width="2" height="35.6" fill="#e0403c"/>
<rect x="759.5" y="1182.8" width="2" height="41.5" fill="#e0403c"/>
<rect x="775.9" y="1176.3" width="2" height="48.1" fill="#e0403c"/>
<rect x="792.3" y="1177.1" width="2" height="47.2" fill="#e0403c"/>
<rect x="808.7" y="1173.2" width="2" height="51.1" fill="#e0403c"/>
<rect x="825.1" y="1176.9" width="2" height="47.5" fill="#e0403c"/>
<rect x="841.5" y="1187.5" width="2" height="36.9" fill="#e0403c"/>
<rect x="857.9" y="1210.0" width="2" height="14.4" fill="#e0403c"/>
<rect x="874.3" y="1224.3" width="2" height="1.2" fill="#e0403c"/>
<rect x="890.7" y="1224.4" width="2" height="4.7" fill="#45a74f"/>
<rect x="907.1" y="1224.4" width="2" height="7.4" fill="#45a74f"/>
<rect x="923.5" y="1224.4" width="2" height="8.0" fill="#45a74f"/>
<rect x="940.0" y="1224.4" width="2" height="9.3" fill="#45a74f"/>
<rect x="956.4" y="1224.4" width="2" height="23.1" fill="#45a74f"/>
<rect x="972.8" y="1224.4" width="2" height="31.2" fill="#45a74f"/>
<rect x="989.2" y="1224.4" width="2" height="33.0" fill="#45a74f"/>
<g clip-path="url(#clipR)">
<path d="M5.6 1223.2 L22.0 1222.7 L38.4 1221.8 L54.8 1220.3 L71.2 1218.7 L87.6 1216.7 L104.0 1214.7 L120.5 1212.7 L136.9 1210.8 L153.3 1209.2 L169.7 1208.0 L186.1 1207.2 L202.5 1206.4 L218.9 1206.0 L235.3 1206.1 L251.7 1207.0 L268.1 1208.5 L284.6 1209.9 L301.0 1211.4 L317.4 1212.9 L333.8 1214.3 L350.2 1214.8 L366.6 1214.6 L383.0 1214.1 L399.4 1213.5 L415.8 1212.6 L432.2 1211.6 L448.7 1210.6 L465.1 1209.4 L481.5 1208.4 L497.9 1207.6 L514.3 1207.1 L530.7 1206.5 L547.1 1205.9 L563.5 1205.1 L579.9 1204.0 L596.4 1202.7 L612.8 1201.1 L629.2 1199.6 L645.6 1198.2 L662.0 1196.7 L678.4 1194.9 L694.8 1192.8 L711.2 1190.3 L727.6 1186.7 L744.0 1182.3 L760.5 1177.1 L776.9 1171.1 L793.3 1165.1 L809.7 1158.8 L826.1 1152.8 L842.5 1148.2 L858.9 1146.4 L875.3 1146.4 L891.7 1147.0 L908.1 1147.9 L924.5 1148.9 L941.0 1150.1 L957.4 1153.0 L973.8 1156.9 L990.2 1161.0" fill="none" stroke="#e5a72a" stroke-width="2.4" stroke-linejoin="round"/>
<path d="M5.6 1220.6 L22.0 1220.5 L38.4 1218.1 L54.8 1214.6 L71.2 1212.1 L87.6 1208.9 L104.0 1206.7 L120.5 1204.9 L136.9 1203.1 L153.3 1202.9 L169.7 1203.0 L186.1 1203.8 L202.5 1203.4 L218.9 1204.3 L235.3 1206.4 L251.7 1210.7 L268.1 1214.6 L284.6 1215.6 L301.0 1217.2 L317.4 1219.1 L333.8 1219.9 L350.2 1216.6 L366.6 1214.1 L383.0 1212.2 L399.4 1210.8 L415.8 1209.3 L432.2 1207.7 L448.7 1206.2 L465.1 1204.6 L481.5 1204.4 L497.9 1204.6 L514.3 1205.3 L530.7 1204.1 L547.1 1203.4 L563.5 1202.1 L579.9 1199.5 L596.4 1197.3 L612.8 1195.0 L629.2 1193.3 L645.6 1192.9 L662.0 1190.5 L678.4 1187.7 L694.8 1184.3 L711.2 1180.3 L727.6 1172.4 L744.0 1164.4 L760.5 1156.3 L776.9 1147.0 L793.3 1141.5 L809.7 1133.2 L826.1 1129.1 L842.5 1129.8 L858.9 1139.2 L875.3 1146.4 L891.7 1149.4 L908.1 1151.6 L924.5 1153.0 L941.0 1154.8 L957.4 1164.5 L973.8 1172.5 L990.2 1177.5" fill="none" stroke="#3d3d3d" stroke-width="2.4" stroke-linejoin="round"/>
<path d="M5.6 1422.7 L22.0 1418.0 L38.4 1415.7 L54.8 1410.2 L71.2 1412.5 L87.6 1409.9 L104.0 1413.4 L120.5 1407.5 L136.9 1406.5 L153.3 1410.2 L169.7 1404.7 L186.1 1408.5 L202.5 1401.7 L218.9 1408.7 L235.3 1424.3 L251.7 1442.7 L268.1 1443.3 L284.6 1439.9 L301.0 1442.2 L317.4 1446.0 L333.8 1445.3 L350.2 1424.2 L366.6 1424.1 L383.0 1421.8 L399.4 1427.2 L415.8 1420.5 L432.2 1413.2 L448.7 1399.2 L465.1 1395.3 L481.5 1408.8 L497.9 1405.9 L514.3 1404.8 L530.7 1399.9 L547.1 1417.3 L563.5 1413.7 L579.9 1405.7 L596.4 1404.6 L612.8 1402.8 L629.2 1404.4 L645.6 1408.9 L662.0 1401.4 L678.4 1392.6 L694.8 1385.2 L711.2 1376.4 L727.6 1363.1 L744.0 1353.7 L760.5 1347.5 L776.9 1341.5 L793.3 1346.9 L809.7 1331.6 L826.1 1337.9 L842.5 1346.9 L858.9 1388.7 L875.3 1389.2 L891.7 1382.6 L908.1 1386.3 L924.5 1402.8 L941.0 1411.4 L957.4 1447.4 L973.8 1458.4 L990.2 1449.2" fill="none" stroke="#e5a72a" stroke-width="2.4" stroke-linejoin="round"/>
<path d="M5.6 1420.6 L22.0 1421.1 L38.4 1422.0 L54.8 1420.0 L71.2 1417.7 L87.6 1414.8 L104.0 1413.3 L120.5 1411.6 L136.9 1410.0 L153.3 1410.0 L169.7 1408.7 L186.1 1408.5 L202.5 1406.5 L218.9 1406.7 L235.3 1409.7 L251.7 1415.1 L268.1 1421.5 L284.6 1426.8 L301.0 1433.5 L317.4 1439.7 L333.8 1443.2 L350.2 1440.2 L366.6 1437.0 L383.0 1433.9 L399.4 1431.4 L415.8 1427.2 L432.2 1421.8 L448.7 1417.6 L465.1 1412.8 L481.5 1410.7 L497.9 1407.1 L514.3 1404.5 L530.7 1402.3 L547.1 1405.3 L563.5 1408.4 L579.9 1407.9 L596.4 1407.7 L612.8 1407.3 L629.2 1408.1 L645.6 1406.7 L662.0 1404.7 L678.4 1402.5 L694.8 1399.2 L711.2 1394.8 L727.6 1387.9 L744.0 1378.7 L760.5 1369.8 L776.9 1361.2 L793.3 1354.8 L809.7 1347.4 L826.1 1343.2 L842.5 1342.0 L858.9 1348.9 L875.3 1356.8 L891.7 1362.8 L908.1 1371.9 L924.5 1382.7 L941.0 1393.5 L957.4 1403.3 L973.8 1414.8 L990.2 1425.9" fill="none" stroke="#3d3d3d" stroke-width="2.4" stroke-linejoin="round"/>
</g>
<path d="M769.5 603.0 H822.5 V605" fill="none" stroke="#444" stroke-width="2"/>
<line x1="21" y1="990.6" x2="75" y2="990.6" stroke="#444" stroke-width="2"/>
<text class="c" x="416.80" y="70.90" font-size="48.00" textLength="192.51" lengthAdjust="spacingAndGlyphs" fill="#ffffff">深证成指</text>
<text class="n" transform="matrix(0.860 0 0 1 469.99 0)" x="0" y="111.45" font-size="27.19" textLength="97.39" lengthAdjust="spacing" fill="#ffffff" stroke="#ffffff" stroke-width="0.50">399001</text>
<text class="n" transform="matrix(0.850 0 0 1 50.75 0)" x="0" y="221.95" font-size="65.51" textLength="298.78" lengthAdjust="spacing" fill="#dc3b3b" stroke="#dc3b3b" stroke-width="1.50">13147.35</text>
<text class="c" x="345.12" y="209.90" font-size="27.60" textLength="53.96" lengthAdjust="spacingAndGlyphs" fill="#4a90e2" font-weight="350">预警</text>
<text class="n" transform="matrix(0.844 0 0 1 49.01 0)" x="0" y="282.85" font-size="38.89" textLength="152.07" lengthAdjust="spacing" fill="#dc3b3b" stroke="#dc3b3b" stroke-width="0.90">+170.48</text>
<text class="n" transform="matrix(0.880 0 0 1 216.19 0)" x="0" y="282.85" font-size="38.89" textLength="165.88" lengthAdjust="spacing" fill="#dc3b3b" stroke="#dc3b3b" stroke-width="0.90">[+1.31%]</text>
<text class="c" x="446.37" y="194.00" font-size="29.80" textLength="30.75" lengthAdjust="spacingAndGlyphs" fill="#8c8c8c">开</text>
<text class="n" transform="matrix(0.940 0 0 1 488.52 0)" x="0" y="196.00" font-size="33.95" textLength="157.24" lengthAdjust="spacing" fill="#dc3b3b" stroke="#dc3b3b" stroke-width="0.80">13107.43</text>
<text class="c" x="664.76" y="194.00" font-size="29.80" textLength="30.86" lengthAdjust="spacingAndGlyphs" fill="#8c8c8c">量</text>
<text class="n" transform="matrix(0.987 0 0 1 707.01 0)" x="0" y="196.00" font-size="33.95" textLength="107.29" lengthAdjust="spacing" fill="#454545" stroke="#454545" stroke-width="0.80">3.90<tspan class="c" stroke-width="0">亿</tspan></text>
<text class="c" x="446.16" y="266.00" font-size="29.80" textLength="30.86" lengthAdjust="spacingAndGlyphs" fill="#8c8c8c">换</text>
<text class="n" transform="matrix(0.940 0 0 1 487.16 0)" x="0" y="267.60" font-size="34.80" textLength="106.73" lengthAdjust="spacing" fill="#454545" stroke="#454545" stroke-width="0.80">2.11%</text>
<text class="c" x="664.76" y="266.00" font-size="29.80" textLength="30.86" lengthAdjust="spacingAndGlyphs" fill="#8c8c8c">额</text>
<text class="n" transform="matrix(0.967 0 0 1 707.03 0)" x="0" y="267.60" font-size="34.80" textLength="120.44" lengthAdjust="spacing" fill="#454545" stroke="#454545" stroke-width="0.80">5080<tspan class="c" stroke-width="0">亿</tspan></text>
<text class="c" x="901.60" y="263.50" font-size="30.00" textLength="96.47" lengthAdjust="spacingAndGlyphs" fill="#4a90e2">加自选</text>
<text class="c" x="41.45" y="340.60" font-size="30.40" textLength="63.76" lengthAdjust="spacingAndGlyphs" fill="#8c8c8c">最高</text>
<text class="c" x="259.99" y="340.60" font-size="30.40" textLength="61.41" lengthAdjust="spacingAndGlyphs" fill="#8c8c8c">最低</text>
<text class="c" x="477.71" y="340.60" font-size="30.40" textLength="63.34" lengthAdjust="spacingAndGlyphs" fill="#8c8c8c">量比</text>
<text class="c" x="696.54" y="340.60" font-size="30.40" textLength="64.33" lengthAdjust="spacingAndGlyphs" fill="#8c8c8c">振幅</text>
<text class="n" transform="matrix(0.900 0 0 1 41.70 0)" x="0" y="393.35" font-size="36.39" textLength="164.12" lengthAdjust="spacing" fill="#dc3b3b" stroke="#dc3b3b" stroke-width="0.80">13196.62</text>
<text class="n" transform="matrix(0.900 0 0 1 259.50 0)" x="0" y="393.35" font-size="36.39" textLength="165.01" lengthAdjust="spacing" fill="#dc3b3b" stroke="#dc3b3b" stroke-width="0.80">13022.82</text>
<text class="n" transform="matrix(0.900 0 0 1 478.00 0)" x="0" y="393.35" font-size="36.39" textLength="76.01" lengthAdjust="spacing" fill="#454545" stroke="#454545" stroke-width="0.80">0.79</text>
<text class="n" transform="matrix(0.895 0 0 1 697.01 0)" x="0" y="393.35" font-size="36.39" textLength="110.73" lengthAdjust="spacing" fill="#454545" stroke="#454545" stroke-width="0.80">1.34%</text>
<text class="c" x="52.72" y="472.40" font-size="38.60" textLength="79.12" lengthAdjust="spacingAndGlyphs" fill="#454545">分时</text>
<text class="c" x="220.42" y="472.40" font-size="38.60" textLength="80.40" lengthAdjust="spacingAndGlyphs" fill="#454545">五日</text>
<text class="c" x="396.22" y="472.40" font-size="38.60" textLength="37.15" lengthAdjust="spacingAndGlyphs" fill="#4a90e2">日</text>
<text class="n" transform="matrix(0.900 0 0 1 435.70 0)" x="0" y="470.90" font-size="39.24" textLength="28.11" lengthAdjust="spacing" fill="#4a90e2" stroke="#4a90e2" stroke-width="0.80">K</text>
<text class="c" x="564.36" y="472.40" font-size="38.60" textLength="40.10" lengthAdjust="spacingAndGlyphs" fill="#454545">周</text>
<text class="n" transform="matrix(0.900 0 0 1 603.50 0)" x="0" y="470.90" font-size="39.24" textLength="28.17" lengthAdjust="spacing" fill="#454545" stroke="#454545" stroke-width="0.80">K</text>
<text class="c" x="736.09" y="472.40" font-size="38.60" textLength="35.09" lengthAdjust="spacingAndGlyphs" fill="#454545">月</text>
<text class="n" transform="matrix(0.900 0 0 1 772.70 0)" x="0" y="470.90" font-size="39.24" textLength="28.17" lengthAdjust="spacing" fill="#454545" stroke="#454545" stroke-width="0.80">K</text>
<text class="c" x="884.48" y="472.40" font-size="38.60" textLength="35.47" lengthAdjust="spacingAndGlyphs" fill="#454545">年</text>
<text class="n" transform="matrix(0.861 0 0 1 921.22 0)" x="0" y="470.90" font-size="39.24" textLength="27.90" lengthAdjust="spacing" fill="#454545" stroke="#454545" stroke-width="0.80">K</text>
<text class="n" transform="matrix(0.842 0 0 1 55.37 0)" x="0" y="554.55" font-size="25.46" textLength="193.00" lengthAdjust="spacing" fill="#3c9eef" stroke="#3c9eef" stroke-width="0.90">MA 5: 13275.69</text>
<text class="a" font-weight="300" x="211.95" y="556.67" font-size="24.57" textLength="40.80" lengthAdjust="spacingAndGlyphs" fill="#3c9eef">↓</text>
<text class="n" transform="matrix(0.826 0 0 1 263.42 0)" x="0" y="554.55" font-size="25.46" textLength="159.64" lengthAdjust="spacing" fill="#e8b42c" stroke="#e8b42c" stroke-width="0.90">10: 13320.89</text>
<text class="a" font-weight="300" x="389.45" y="556.67" font-size="24.57" textLength="40.80" lengthAdjust="spacingAndGlyphs" fill="#e8b42c">↓</text>
<text class="n" transform="matrix(0.845 0 0 1 439.50 0)" x="0" y="554.55" font-size="25.46" textLength="159.64" lengthAdjust="spacing" fill="#9a6af0" stroke="#9a6af0" stroke-width="0.90">20: 13255.41</text>
<text class="a" font-weight="300" x="568.55" y="557.64" font-size="24.57" textLength="40.80" lengthAdjust="spacingAndGlyphs" fill="#9a6af0">↑</text>
<text class="n" transform="matrix(0.845 0 0 1 619.35 0)" x="0" y="554.55" font-size="25.46" textLength="157.76" lengthAdjust="spacing" fill="#ad2a2e" stroke="#ad2a2e" stroke-width="0.90">30: 12711.25</text>
<text class="a" font-weight="300" x="747.55" y="557.64" font-size="24.57" textLength="40.80" lengthAdjust="spacingAndGlyphs" fill="#ad2a2e">↑</text>
<text class="c" x="851.14" y="556.00" font-size="31.40" textLength="127.96" lengthAdjust="spacingAndGlyphs" fill="#4a90e2" font-weight="350">区间统计</text>
<text class="n" transform="matrix(0.901 0 0 1 28.00 0)" x="0" y="625.20" font-size="26.11" textLength="116.98" lengthAdjust="spacing" fill="#9a9a9a">14344.68</text>
<text class="n" transform="matrix(0.842 0 0 1 31.12 0)" x="0" y="1009.00" font-size="27.17" textLength="121.56" lengthAdjust="spacing" fill="#9a9a9a">10083.65</text>
<text class="n" transform="matrix(0.862 0 0 1 651.18 0)" x="0" y="614.10" font-size="27.27" textLength="122.12" lengthAdjust="spacing" fill="#3f3f3f">14151.00</text>
<text class="n" transform="matrix(0.875 0 0 1 89.85 0)" x="0" y="1002.70" font-size="27.17" textLength="121.56" lengthAdjust="spacing" fill="#3f3f3f">10449.37</text>
<text class="n" transform="matrix(0.855 0 0 1 47.99 0)" x="0" y="1103.45" font-size="26.63" textLength="84.00" lengthAdjust="spacing" fill="#454545" stroke="#454545" stroke-width="0.60">MACD</text>
<text class="n" transform="matrix(0.813 0 0 1 188.17 0)" x="0" y="1103.35" font-size="26.34" textLength="204.20" lengthAdjust="spacing" fill="#454545" stroke="#454545" stroke-width="0.80">MACD(12,26,9):</text>
<text class="n" transform="matrix(0.813 0 0 1 365.37 0)" x="0" y="1103.35" font-size="26.34" textLength="187.04" lengthAdjust="spacing" fill="#43a64d" stroke="#43a64d" stroke-width="0.80">MACD:-250.06</text>
<text class="a" font-weight="300" x="509.08" y="1105.59" font-size="24.91" textLength="46.69" lengthAdjust="spacingAndGlyphs" fill="#43a64d">↓</text>
<text class="n" transform="matrix(0.805 0 0 1 563.49 0)" x="0" y="1103.35" font-size="26.34" textLength="157.15" lengthAdjust="spacing" fill="#454545" stroke="#454545" stroke-width="0.80">DIFF:352.74</text>
<text class="a" font-weight="300" x="681.68" y="1105.59" font-size="24.91" textLength="46.69" lengthAdjust="spacingAndGlyphs" fill="#454545">↓</text>
<text class="n" transform="matrix(0.795 0 0 1 735.41 0)" x="0" y="1103.35" font-size="26.34" textLength="152.46" lengthAdjust="spacing" fill="#dfa52c" stroke="#dfa52c" stroke-width="0.80">DEA:477.77</text>
<text class="a" font-weight="300" x="848.38" y="1105.59" font-size="24.91" textLength="46.69" lengthAdjust="spacingAndGlyphs" fill="#dfa52c">↓</text>
<text class="n" transform="matrix(0.989 0 0 1 54.21 0)" x="0" y="1156.90" font-size="24.09" textLength="79.08" lengthAdjust="spacing" fill="#454545" stroke="#454545" stroke-width="0.60">719.28</text>
<text class="n" x="54.20" y="1249.70" font-size="24.09" textLength="88.79" lengthAdjust="spacing" fill="#454545" stroke="#454545" stroke-width="0.60">-250.06</text>
<text class="n" transform="matrix(0.811 0 0 1 59.68 0)" x="0" y="1304.20" font-size="25.57" textLength="60.89" lengthAdjust="spacing" fill="#454545" stroke="#454545" stroke-width="0.60">ROC</text>
<text class="n" transform="matrix(0.904 0 0 1 194.19 0)" x="0" y="1304.10" font-size="25.81" textLength="141.49" lengthAdjust="spacing" fill="#454545" stroke="#454545" stroke-width="0.80">ROC(12,6):</text>
<text class="n" transform="matrix(0.913 0 0 1 334.27 0)" x="0" y="1304.10" font-size="25.81" textLength="132.39" lengthAdjust="spacing" fill="#dfa52c" stroke="#dfa52c" stroke-width="0.80">ROC:-3.83</text>
<text class="a" font-weight="300" x="449.81" y="1307.17" font-size="24.96" textLength="41.46" lengthAdjust="spacingAndGlyphs" fill="#dfa52c">↑</text>
<text class="n" transform="matrix(0.907 0 0 1 495.79 0)" x="0" y="1304.10" font-size="25.81" textLength="164.76" lengthAdjust="spacing" fill="#454545" stroke="#454545" stroke-width="0.80">MAROC:0.86</text>
<text class="a" font-weight="300" x="639.91" y="1306.19" font-size="24.96" textLength="41.46" lengthAdjust="spacingAndGlyphs" fill="#454545">↓</text>
<text class="n" transform="matrix(0.926 0 0 1 54.97 0)" x="0" y="1358.45" font-size="25.25" textLength="67.79" lengthAdjust="spacing" fill="#454545" stroke="#454545" stroke-width="0.60">19.97</text>
<text class="n" transform="matrix(0.994 0 0 1 54.01 0)" x="0" y="1450.95" font-size="25.25" textLength="61.73" lengthAdjust="spacing" fill="#454545" stroke="#454545" stroke-width="0.60">-5.66</text>
<text class="n" x="26.35" y="1490.35" font-size="25.26" textLength="120.94" lengthAdjust="spacing" fill="#9a9a9a" stroke="#9a9a9a" stroke-width="0.30">2020/4/29</text>
<text class="n" x="451.25" y="1490.35" font-size="25.26" textLength="121.44" lengthAdjust="spacing" fill="#9a9a9a" stroke="#9a9a9a" stroke-width="0.30">2020/6/15</text>
<text class="n" x="877.25" y="1490.35" font-size="25.26" textLength="121.44" lengthAdjust="spacing" fill="#9a9a9a" stroke="#9a9a9a" stroke-width="0.30">2020/7/28</text>
<text class="c" x="69.12" y="1569.50" font-size="38.00" textLength="74.77" lengthAdjust="spacingAndGlyphs" fill="#dc3b3b">上涨</text>
<text class="n" transform="matrix(0.926 0 0 1 163.00 0)" x="0" y="1568.45" font-size="36.63" textLength="126.79" lengthAdjust="spacing" fill="#dc3b3b" stroke="#dc3b3b" stroke-width="0.70">1649<tspan class="c" stroke-width="0">家</tspan></text>
<text class="c" x="416.01" y="1569.50" font-size="38.00" textLength="74.87" lengthAdjust="spacingAndGlyphs" fill="#b8c5d6">平盘</text>
<text class="n" transform="matrix(0.912 0 0 1 510.03 0)" x="0" y="1568.45" font-size="36.63" textLength="104.89" lengthAdjust="spacing" fill="#b8c5d6" stroke="#b8c5d6" stroke-width="0.70">167<tspan class="c" stroke-width="0">家</tspan></text>
<text class="c" x="750.80" y="1569.50" font-size="38.00" textLength="75.90" lengthAdjust="spacingAndGlyphs" fill="#43a64d">下跌</text>
<text class="n" transform="matrix(0.931 0 0 1 844.92 0)" x="0" y="1568.45" font-size="36.63" textLength="104.97" lengthAdjust="spacing" fill="#43a64d" stroke="#43a64d" stroke-width="0.70">558<tspan class="c" stroke-width="0">家</tspan></text>
</g>
</svg>
</body></html>
